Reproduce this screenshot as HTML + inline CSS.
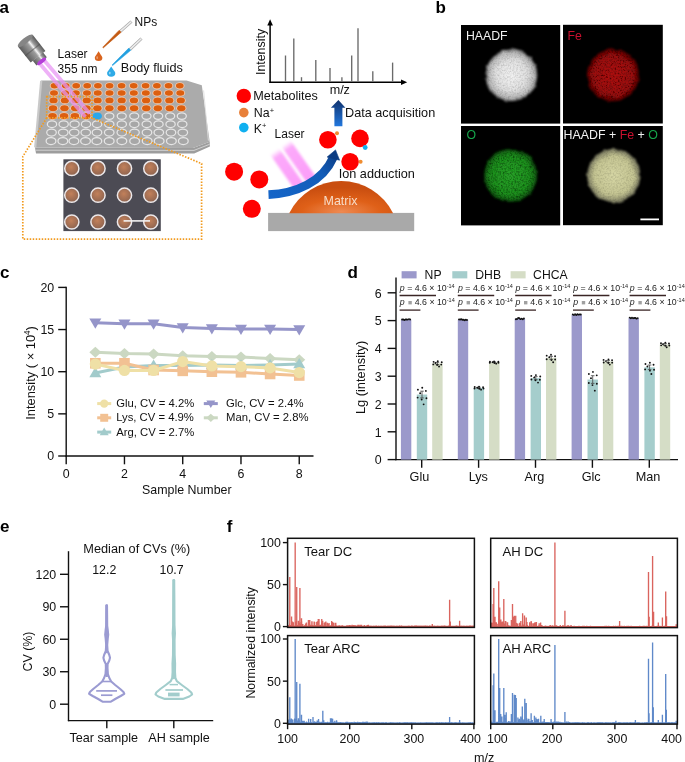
<!DOCTYPE html>
<html><head><meta charset="utf-8"><style>
html,body{margin:0;padding:0;background:#fff;}
svg{display:block;font-family:"Liberation Sans", sans-serif;will-change:transform;}
</style></head><body>
<svg width="685" height="762" viewBox="0 0 685 762">
<defs>
<linearGradient id="objG" x1="0" y1="0" x2="0" y2="1">
  <stop offset="0" stop-color="#5a5a5a"/><stop offset="0.25" stop-color="#9a9a9a"/>
  <stop offset="0.38" stop-color="#f4f4f4"/><stop offset="0.5" stop-color="#9c9c9c"/>
  <stop offset="1" stop-color="#5c5c5c"/>
</linearGradient>
<radialGradient id="matG" cx="0.5" cy="0.95" r="0.75">
  <stop offset="0" stop-color="#ee8a52"/><stop offset="0.5" stop-color="#df6018"/><stop offset="1" stop-color="#c94e10"/>
</radialGradient>
<linearGradient id="upArr" x1="0" y1="0" x2="0" y2="1">
  <stop offset="0" stop-color="#10336e"/><stop offset="1" stop-color="#2277dd"/>
</linearGradient>
<linearGradient id="curvArr" x1="0" y1="1" x2="1" y2="0">
  <stop offset="0" stop-color="#1b6bd0"/><stop offset="0.6" stop-color="#1757b0"/><stop offset="1" stop-color="#0c3a80"/>
</linearGradient>
<linearGradient id="pinkG" x1="0" y1="0" x2="1" y2="0">
  <stop offset="0" stop-color="#fca4fb" stop-opacity="0"/><stop offset="0.14" stop-color="#fca0fa" stop-opacity="0.9"/>
  <stop offset="1" stop-color="#fb9cf8" stop-opacity="1"/>
</linearGradient>
<radialGradient id="spotG" cx="0.45" cy="0.4" r="0.6">
  <stop offset="0" stop-color="#c2805a"/><stop offset="1" stop-color="#8e6450"/>
</radialGradient>
<radialGradient id="haadfG" cx="0.5" cy="0.5" r="0.5">
  <stop offset="0" stop-color="#f2f2f2"/><stop offset="0.6" stop-color="#e0e0e0"/><stop offset="0.88" stop-color="#b8b8b8"/><stop offset="1" stop-color="#6a6a6a"/>
</radialGradient>
<radialGradient id="feG" cx="0.5" cy="0.5" r="0.5">
  <stop offset="0" stop-color="#b00c0c"/><stop offset="0.75" stop-color="#9a0808"/><stop offset="1" stop-color="#5a0404"/>
</radialGradient>
<radialGradient id="oG" cx="0.5" cy="0.5" r="0.5">
  <stop offset="0" stop-color="#27a227"/><stop offset="0.75" stop-color="#1d8e1d"/><stop offset="1" stop-color="#0e520e"/>
</radialGradient>
<radialGradient id="mixG" cx="0.5" cy="0.5" r="0.5">
  <stop offset="0" stop-color="#d6d6a4"/><stop offset="0.75" stop-color="#c4c492"/><stop offset="1" stop-color="#74745c"/>
</radialGradient>
<filter id="noise" x="0" y="0" width="100%" height="100%">
  <feTurbulence type="fractalNoise" baseFrequency="0.9" numOctaves="2" seed="7" result="t"/>
  <feColorMatrix type="matrix" values="0 0 0 0 0  0 0 0 0 0  0 0 0 0 0  0 0 0 -1.4 1.0" />
</filter>
<filter id="blur1"><feGaussianBlur stdDeviation="0.8"/></filter>
<filter id="blur2"><feGaussianBlur stdDeviation="1.2"/></filter>
</defs>
<rect x="0" y="0" width="685" height="762" fill="#fff"/>
<text x="-0.60" y="12.70" font-size="17" text-anchor="start" fill="#000" font-weight="bold"  >a</text>
<text x="435.60" y="12.80" font-size="17" text-anchor="start" fill="#000" font-weight="bold"  >b</text>
<text x="0.10" y="277.80" font-size="17" text-anchor="start" fill="#000" font-weight="bold"  >c</text>
<text x="347.40" y="277.80" font-size="17" text-anchor="start" fill="#000" font-weight="bold"  >d</text>
<text x="-0.10" y="531.90" font-size="17" text-anchor="start" fill="#000" font-weight="bold"  >e</text>
<text x="226.80" y="531.80" font-size="17" text-anchor="start" fill="#000" font-weight="bold"  >f</text>
<path d="M35,147.5 L193,148 L209.7,141.8 L209.9,146.6 L194.2,153.4 L36,153.4 Z" fill="#9d9d9d"/>
<path d="M36,150.2 L194,150.4 L209.8,144.2" fill="none" stroke="#d6d6d6" stroke-width="0.9"/>
<path d="M41.2,80.6 L186.5,80.5 L201.8,85.3 L209.7,141.8 L193,148 L35,147.5 Z" fill="#ababab"/>
<path d="M41.2,80.9 L35.2,147.3" stroke="#c9c9c9" stroke-width="2.2" fill="none"/>
<path d="M203.6,90.4 L208.4,140.6" stroke="#dedede" stroke-width="0.9" fill="none"/>
<ellipse cx="54.50" cy="85.70" rx="4.75" ry="3.50" fill="#f4cbb0"/>
<ellipse cx="54.50" cy="85.70" rx="3.85" ry="2.70" fill="#dc5f0f"/>
<ellipse cx="65.70" cy="85.70" rx="4.75" ry="3.50" fill="#f4cbb0"/>
<ellipse cx="65.70" cy="85.70" rx="3.85" ry="2.70" fill="#dc5f0f"/>
<ellipse cx="76.20" cy="85.70" rx="4.75" ry="3.50" fill="#f4cbb0"/>
<ellipse cx="76.20" cy="85.70" rx="3.85" ry="2.70" fill="#dc5f0f"/>
<ellipse cx="87.20" cy="85.70" rx="4.75" ry="3.50" fill="#f4cbb0"/>
<ellipse cx="87.20" cy="85.70" rx="3.85" ry="2.70" fill="#dc5f0f"/>
<ellipse cx="97.90" cy="85.70" rx="4.75" ry="3.50" fill="#f4cbb0"/>
<ellipse cx="97.90" cy="85.70" rx="3.85" ry="2.70" fill="#dc5f0f"/>
<ellipse cx="109.60" cy="85.70" rx="4.75" ry="3.50" fill="#f4cbb0"/>
<ellipse cx="109.60" cy="85.70" rx="3.85" ry="2.70" fill="#dc5f0f"/>
<ellipse cx="121.60" cy="85.70" rx="4.75" ry="3.50" fill="#f4cbb0"/>
<ellipse cx="121.60" cy="85.70" rx="3.85" ry="2.70" fill="#dc5f0f"/>
<ellipse cx="133.70" cy="85.70" rx="4.75" ry="3.50" fill="#f4cbb0"/>
<ellipse cx="133.70" cy="85.70" rx="3.85" ry="2.70" fill="#dc5f0f"/>
<ellipse cx="145.60" cy="85.70" rx="4.75" ry="3.50" fill="#f4cbb0"/>
<ellipse cx="145.60" cy="85.70" rx="3.85" ry="2.70" fill="#dc5f0f"/>
<ellipse cx="156.90" cy="85.70" rx="4.75" ry="3.50" fill="#f4cbb0"/>
<ellipse cx="156.90" cy="85.70" rx="3.85" ry="2.70" fill="#dc5f0f"/>
<ellipse cx="168.50" cy="85.70" rx="4.75" ry="3.50" fill="#f4cbb0"/>
<ellipse cx="168.50" cy="85.70" rx="3.85" ry="2.70" fill="#dc5f0f"/>
<ellipse cx="179.80" cy="85.70" rx="4.75" ry="3.50" fill="#f4cbb0"/>
<ellipse cx="179.80" cy="85.70" rx="3.85" ry="2.70" fill="#dc5f0f"/>
<ellipse cx="54.00" cy="92.98" rx="4.87" ry="3.59" fill="#f4cbb0"/>
<ellipse cx="54.00" cy="92.98" rx="3.97" ry="2.79" fill="#dc5f0f"/>
<ellipse cx="65.29" cy="92.98" rx="4.87" ry="3.59" fill="#f4cbb0"/>
<ellipse cx="65.29" cy="92.98" rx="3.97" ry="2.79" fill="#dc5f0f"/>
<ellipse cx="75.87" cy="92.98" rx="4.87" ry="3.59" fill="#f4cbb0"/>
<ellipse cx="75.87" cy="92.98" rx="3.97" ry="2.79" fill="#dc5f0f"/>
<ellipse cx="86.96" cy="92.98" rx="4.87" ry="3.59" fill="#f4cbb0"/>
<ellipse cx="86.96" cy="92.98" rx="3.97" ry="2.79" fill="#dc5f0f"/>
<ellipse cx="97.75" cy="92.98" rx="4.87" ry="3.59" fill="#f4cbb0"/>
<ellipse cx="97.75" cy="92.98" rx="3.97" ry="2.79" fill="#dc5f0f"/>
<ellipse cx="109.54" cy="92.98" rx="4.87" ry="3.59" fill="#f4cbb0"/>
<ellipse cx="109.54" cy="92.98" rx="3.97" ry="2.79" fill="#dc5f0f"/>
<ellipse cx="121.64" cy="92.98" rx="4.87" ry="3.59" fill="#f4cbb0"/>
<ellipse cx="121.64" cy="92.98" rx="3.97" ry="2.79" fill="#dc5f0f"/>
<ellipse cx="133.83" cy="92.98" rx="4.87" ry="3.59" fill="#f4cbb0"/>
<ellipse cx="133.83" cy="92.98" rx="3.97" ry="2.79" fill="#dc5f0f"/>
<ellipse cx="145.83" cy="92.98" rx="4.87" ry="3.59" fill="#f4cbb0"/>
<ellipse cx="145.83" cy="92.98" rx="3.97" ry="2.79" fill="#dc5f0f"/>
<ellipse cx="157.22" cy="92.98" rx="4.87" ry="3.59" fill="#f4cbb0"/>
<ellipse cx="157.22" cy="92.98" rx="3.97" ry="2.79" fill="#dc5f0f"/>
<ellipse cx="168.91" cy="92.98" rx="4.87" ry="3.59" fill="#f4cbb0"/>
<ellipse cx="168.91" cy="92.98" rx="3.97" ry="2.79" fill="#dc5f0f"/>
<ellipse cx="180.30" cy="92.98" rx="4.87" ry="3.59" fill="#f4cbb0"/>
<ellipse cx="180.30" cy="92.98" rx="3.97" ry="2.79" fill="#dc5f0f"/>
<ellipse cx="53.50" cy="100.48" rx="4.99" ry="3.68" fill="#f4cbb0"/>
<ellipse cx="53.50" cy="100.48" rx="4.09" ry="2.88" fill="#dc5f0f"/>
<ellipse cx="64.88" cy="100.48" rx="4.99" ry="3.68" fill="#f4cbb0"/>
<ellipse cx="64.88" cy="100.48" rx="4.09" ry="2.88" fill="#dc5f0f"/>
<ellipse cx="75.55" cy="100.48" rx="4.99" ry="3.68" fill="#f4cbb0"/>
<ellipse cx="75.55" cy="100.48" rx="4.09" ry="2.88" fill="#dc5f0f"/>
<ellipse cx="86.72" cy="100.48" rx="4.99" ry="3.68" fill="#f4cbb0"/>
<ellipse cx="86.72" cy="100.48" rx="4.09" ry="2.88" fill="#dc5f0f"/>
<ellipse cx="97.59" cy="100.48" rx="4.99" ry="3.68" fill="#f4cbb0"/>
<ellipse cx="97.59" cy="100.48" rx="4.09" ry="2.88" fill="#dc5f0f"/>
<ellipse cx="109.48" cy="100.48" rx="4.99" ry="3.68" fill="#f4cbb0"/>
<ellipse cx="109.48" cy="100.48" rx="4.09" ry="2.88" fill="#dc5f0f"/>
<ellipse cx="121.67" cy="100.48" rx="4.99" ry="3.68" fill="#f4cbb0"/>
<ellipse cx="121.67" cy="100.48" rx="4.09" ry="2.88" fill="#dc5f0f"/>
<ellipse cx="133.97" cy="100.48" rx="4.99" ry="3.68" fill="#f4cbb0"/>
<ellipse cx="133.97" cy="100.48" rx="4.09" ry="2.88" fill="#dc5f0f"/>
<ellipse cx="146.06" cy="100.48" rx="4.99" ry="3.68" fill="#f4cbb0"/>
<ellipse cx="146.06" cy="100.48" rx="4.09" ry="2.88" fill="#dc5f0f"/>
<ellipse cx="157.54" cy="100.48" rx="4.99" ry="3.68" fill="#f4cbb0"/>
<ellipse cx="157.54" cy="100.48" rx="4.09" ry="2.88" fill="#dc5f0f"/>
<ellipse cx="169.32" cy="100.48" rx="4.99" ry="3.68" fill="#f4cbb0"/>
<ellipse cx="169.32" cy="100.48" rx="4.09" ry="2.88" fill="#dc5f0f"/>
<ellipse cx="180.80" cy="100.48" rx="4.99" ry="3.68" fill="#f4cbb0"/>
<ellipse cx="180.80" cy="100.48" rx="4.09" ry="2.88" fill="#dc5f0f"/>
<ellipse cx="53.00" cy="108.19" rx="5.11" ry="3.77" fill="#f4cbb0"/>
<ellipse cx="53.00" cy="108.19" rx="4.21" ry="2.97" fill="#dc5f0f"/>
<ellipse cx="64.47" cy="108.19" rx="5.11" ry="3.77" fill="#f4cbb0"/>
<ellipse cx="64.47" cy="108.19" rx="4.21" ry="2.97" fill="#dc5f0f"/>
<ellipse cx="75.22" cy="108.19" rx="5.11" ry="3.77" fill="#f4cbb0"/>
<ellipse cx="75.22" cy="108.19" rx="4.21" ry="2.97" fill="#dc5f0f"/>
<ellipse cx="86.48" cy="108.19" rx="5.11" ry="3.77" fill="#f4cbb0"/>
<ellipse cx="86.48" cy="108.19" rx="4.21" ry="2.97" fill="#dc5f0f"/>
<ellipse cx="97.44" cy="108.19" rx="5.11" ry="3.77" fill="#f4cbb0"/>
<ellipse cx="97.44" cy="108.19" rx="4.21" ry="2.97" fill="#dc5f0f"/>
<ellipse cx="109.42" cy="108.19" rx="5.11" ry="3.77" fill="#f4cbb0"/>
<ellipse cx="109.42" cy="108.19" rx="4.21" ry="2.97" fill="#dc5f0f"/>
<ellipse cx="121.71" cy="108.19" rx="5.11" ry="3.77" fill="#f4cbb0"/>
<ellipse cx="121.71" cy="108.19" rx="4.21" ry="2.97" fill="#dc5f0f"/>
<ellipse cx="134.10" cy="108.19" rx="5.11" ry="3.77" fill="#f4cbb0"/>
<ellipse cx="134.10" cy="108.19" rx="4.21" ry="2.97" fill="#dc5f0f"/>
<ellipse cx="146.28" cy="108.19" rx="5.11" ry="3.77" fill="#f4cbb0"/>
<ellipse cx="146.28" cy="108.19" rx="4.21" ry="2.97" fill="#dc5f0f"/>
<ellipse cx="157.85" cy="108.19" rx="5.11" ry="3.77" fill="#f4cbb0"/>
<ellipse cx="157.85" cy="108.19" rx="4.21" ry="2.97" fill="#dc5f0f"/>
<ellipse cx="169.73" cy="108.19" rx="5.11" ry="3.77" fill="#f4cbb0"/>
<ellipse cx="169.73" cy="108.19" rx="4.21" ry="2.97" fill="#dc5f0f"/>
<ellipse cx="181.30" cy="108.19" rx="5.11" ry="3.77" fill="#f4cbb0"/>
<ellipse cx="181.30" cy="108.19" rx="4.21" ry="2.97" fill="#dc5f0f"/>
<ellipse cx="52.50" cy="116.10" rx="5.23" ry="3.86" fill="#f4cbb0"/>
<ellipse cx="52.50" cy="116.10" rx="4.33" ry="3.06" fill="#dc5f0f"/>
<ellipse cx="64.06" cy="116.10" rx="5.23" ry="3.86" fill="#f4cbb0"/>
<ellipse cx="64.06" cy="116.10" rx="4.33" ry="3.06" fill="#dc5f0f"/>
<ellipse cx="74.89" cy="116.10" rx="5.23" ry="3.86" fill="#f4cbb0"/>
<ellipse cx="74.89" cy="116.10" rx="4.33" ry="3.06" fill="#dc5f0f"/>
<ellipse cx="86.24" cy="116.10" rx="5.23" ry="3.86" fill="#f4cbb0"/>
<ellipse cx="86.24" cy="116.10" rx="4.33" ry="3.06" fill="#dc5f0f"/>
<ellipse cx="97.29" cy="116.10" rx="4.63" ry="3.36" fill="#29a7ec"/>
<ellipse cx="109.36" cy="116.10" rx="4.53" ry="3.26" fill="#a7a7a7" stroke="#e6e6e6" stroke-width="1.25"/>
<ellipse cx="121.74" cy="116.10" rx="4.53" ry="3.26" fill="#a7a7a7" stroke="#e6e6e6" stroke-width="1.25"/>
<ellipse cx="134.23" cy="116.10" rx="4.53" ry="3.26" fill="#a7a7a7" stroke="#e6e6e6" stroke-width="1.25"/>
<ellipse cx="146.51" cy="116.10" rx="4.53" ry="3.26" fill="#a7a7a7" stroke="#e6e6e6" stroke-width="1.25"/>
<ellipse cx="158.17" cy="116.10" rx="4.53" ry="3.26" fill="#a7a7a7" stroke="#e6e6e6" stroke-width="1.25"/>
<ellipse cx="170.14" cy="116.10" rx="4.53" ry="3.26" fill="#a7a7a7" stroke="#e6e6e6" stroke-width="1.25"/>
<ellipse cx="181.80" cy="116.10" rx="4.53" ry="3.26" fill="#a7a7a7" stroke="#e6e6e6" stroke-width="1.25"/>
<ellipse cx="52.00" cy="124.22" rx="4.65" ry="3.35" fill="#a7a7a7" stroke="#e6e6e6" stroke-width="1.25"/>
<ellipse cx="63.65" cy="124.22" rx="4.65" ry="3.35" fill="#a7a7a7" stroke="#e6e6e6" stroke-width="1.25"/>
<ellipse cx="74.57" cy="124.22" rx="4.65" ry="3.35" fill="#a7a7a7" stroke="#e6e6e6" stroke-width="1.25"/>
<ellipse cx="86.01" cy="124.22" rx="4.65" ry="3.35" fill="#a7a7a7" stroke="#e6e6e6" stroke-width="1.25"/>
<ellipse cx="97.13" cy="124.22" rx="4.65" ry="3.35" fill="#a7a7a7" stroke="#e6e6e6" stroke-width="1.25"/>
<ellipse cx="109.30" cy="124.22" rx="4.65" ry="3.35" fill="#a7a7a7" stroke="#e6e6e6" stroke-width="1.25"/>
<ellipse cx="121.78" cy="124.22" rx="4.65" ry="3.35" fill="#a7a7a7" stroke="#e6e6e6" stroke-width="1.25"/>
<ellipse cx="134.36" cy="124.22" rx="4.65" ry="3.35" fill="#a7a7a7" stroke="#e6e6e6" stroke-width="1.25"/>
<ellipse cx="146.74" cy="124.22" rx="4.65" ry="3.35" fill="#a7a7a7" stroke="#e6e6e6" stroke-width="1.25"/>
<ellipse cx="158.49" cy="124.22" rx="4.65" ry="3.35" fill="#a7a7a7" stroke="#e6e6e6" stroke-width="1.25"/>
<ellipse cx="170.55" cy="124.22" rx="4.65" ry="3.35" fill="#a7a7a7" stroke="#e6e6e6" stroke-width="1.25"/>
<ellipse cx="182.30" cy="124.22" rx="4.65" ry="3.35" fill="#a7a7a7" stroke="#e6e6e6" stroke-width="1.25"/>
<ellipse cx="51.50" cy="132.56" rx="4.77" ry="3.44" fill="#a7a7a7" stroke="#e6e6e6" stroke-width="1.25"/>
<ellipse cx="63.24" cy="132.56" rx="4.77" ry="3.44" fill="#a7a7a7" stroke="#e6e6e6" stroke-width="1.25"/>
<ellipse cx="74.24" cy="132.56" rx="4.77" ry="3.44" fill="#a7a7a7" stroke="#e6e6e6" stroke-width="1.25"/>
<ellipse cx="85.77" cy="132.56" rx="4.77" ry="3.44" fill="#a7a7a7" stroke="#e6e6e6" stroke-width="1.25"/>
<ellipse cx="96.98" cy="132.56" rx="4.77" ry="3.44" fill="#a7a7a7" stroke="#e6e6e6" stroke-width="1.25"/>
<ellipse cx="109.24" cy="132.56" rx="4.77" ry="3.44" fill="#a7a7a7" stroke="#e6e6e6" stroke-width="1.25"/>
<ellipse cx="121.82" cy="132.56" rx="4.77" ry="3.44" fill="#a7a7a7" stroke="#e6e6e6" stroke-width="1.25"/>
<ellipse cx="134.50" cy="132.56" rx="4.77" ry="3.44" fill="#a7a7a7" stroke="#e6e6e6" stroke-width="1.25"/>
<ellipse cx="146.97" cy="132.56" rx="4.77" ry="3.44" fill="#a7a7a7" stroke="#e6e6e6" stroke-width="1.25"/>
<ellipse cx="158.81" cy="132.56" rx="4.77" ry="3.44" fill="#a7a7a7" stroke="#e6e6e6" stroke-width="1.25"/>
<ellipse cx="170.96" cy="132.56" rx="4.77" ry="3.44" fill="#a7a7a7" stroke="#e6e6e6" stroke-width="1.25"/>
<ellipse cx="182.80" cy="132.56" rx="4.77" ry="3.44" fill="#a7a7a7" stroke="#e6e6e6" stroke-width="1.25"/>
<ellipse cx="51.00" cy="141.11" rx="4.89" ry="3.53" fill="#a7a7a7" stroke="#e6e6e6" stroke-width="1.25"/>
<ellipse cx="62.83" cy="141.11" rx="4.89" ry="3.53" fill="#a7a7a7" stroke="#e6e6e6" stroke-width="1.25"/>
<ellipse cx="73.91" cy="141.11" rx="4.89" ry="3.53" fill="#a7a7a7" stroke="#e6e6e6" stroke-width="1.25"/>
<ellipse cx="85.53" cy="141.11" rx="4.89" ry="3.53" fill="#a7a7a7" stroke="#e6e6e6" stroke-width="1.25"/>
<ellipse cx="96.83" cy="141.11" rx="4.89" ry="3.53" fill="#a7a7a7" stroke="#e6e6e6" stroke-width="1.25"/>
<ellipse cx="109.18" cy="141.11" rx="4.89" ry="3.53" fill="#a7a7a7" stroke="#e6e6e6" stroke-width="1.25"/>
<ellipse cx="121.85" cy="141.11" rx="4.89" ry="3.53" fill="#a7a7a7" stroke="#e6e6e6" stroke-width="1.25"/>
<ellipse cx="134.63" cy="141.11" rx="4.89" ry="3.53" fill="#a7a7a7" stroke="#e6e6e6" stroke-width="1.25"/>
<ellipse cx="147.19" cy="141.11" rx="4.89" ry="3.53" fill="#a7a7a7" stroke="#e6e6e6" stroke-width="1.25"/>
<ellipse cx="159.13" cy="141.11" rx="4.89" ry="3.53" fill="#a7a7a7" stroke="#e6e6e6" stroke-width="1.25"/>
<ellipse cx="171.37" cy="141.11" rx="4.89" ry="3.53" fill="#a7a7a7" stroke="#e6e6e6" stroke-width="1.25"/>
<ellipse cx="183.31" cy="141.11" rx="4.89" ry="3.53" fill="#a7a7a7" stroke="#e6e6e6" stroke-width="1.25"/>
<g transform="translate(42,62) rotate(49.5)" opacity="0.72"><rect x="0" y="-4.7" width="70" height="3.8" fill="#e894f4"/><rect x="0" y="0.9" width="70" height="3.8" fill="#e894f4"/></g>
<g transform="translate(25.3,40.7) rotate(51.5)"><rect x="0" y="-9.4" width="20.5" height="18.8" fill="url(#objG)"/><rect x="11.2" y="-9.4" width="1.2" height="18.8" fill="#4a4a4a" opacity="0.5"/><rect x="20.3" y="-6.6" width="6.0" height="13.2" fill="url(#objG)"/><ellipse cx="0" cy="0" rx="2.8" ry="9.4" fill="#858585"/><ellipse cx="26.3" cy="0" rx="2.0" ry="5.4" fill="#b43fd8"/></g>
<line x1="131.5" y1="21.5" x2="120.3" y2="31.4" stroke="#a8a8a8" stroke-width="3.0" stroke-linecap="butt"/>
<line x1="131.5" y1="21.5" x2="120.3" y2="31.4" stroke="#ececec" stroke-width="1.6"/>
<path d="M121.2,32.2 L119.2,30.2 L102.7,47.3 L103.3,47.9 Z" fill="#c45a12" stroke="#c45a12" stroke-width="0.5"/>
<line x1="141.5" y1="38.5" x2="130" y2="49.4" stroke="#a8a8a8" stroke-width="3.0" stroke-linecap="butt"/>
<line x1="141.5" y1="38.5" x2="130" y2="49.4" stroke="#ececec" stroke-width="1.6"/>
<path d="M130.8,50.3 L128.8,48.1 L112.0,65.0 L112.6,65.6 Z" fill="#22a0e0" stroke="#22a0e0" stroke-width="0.5"/>
<path d="M98.60,51.20 C99.80,53.40 102.40,56.50 102.40,57.80 A3.80,3.23 0 0 1 94.80,57.80 C94.80,56.50 97.40,53.40 98.60,51.20 Z" fill="#d9641e"/>
<ellipse cx="97.20" cy="57.70" rx="0.9" ry="1.4" fill="#f4b48c" opacity="0.7"/>
<path d="M111.20,66.60 C112.40,68.80 115.30,71.90 115.30,73.20 A4.10,3.48 0 0 1 107.10,73.20 C107.10,71.90 110.00,68.80 111.20,66.60 Z" fill="#2eaae6"/>
<ellipse cx="109.80" cy="73.10" rx="0.9" ry="1.4" fill="#bfe6fa" opacity="0.7"/>
<text x="57.60" y="57.80" font-size="12.0" text-anchor="start" fill="#111" font-weight="normal" transform="translate(0,57.80) scale(1,1.04) translate(0,-57.80)" >Laser</text>
<text x="57.60" y="72.70" font-size="12.0" text-anchor="start" fill="#111" font-weight="normal" transform="translate(0,72.70) scale(1,1.04) translate(0,-72.70)" >355 nm</text>
<text x="134.60" y="25.90" font-size="12.0" text-anchor="start" fill="#111" font-weight="normal" transform="translate(0,25.90) scale(1,1.04) translate(0,-25.90)" >NPs</text>
<text x="120.80" y="72.30" font-size="12.7" text-anchor="start" fill="#111" font-weight="normal" transform="translate(0,72.30) scale(1,1.04) translate(0,-72.30)" >Body fluids</text>
<rect x="46.7" y="96.7" width="45.3" height="21.2" stroke="#f29b1f" stroke-width="1.7" stroke-dasharray="1.5 1.5" fill="none"/>
<path d="M46.7,117.9 L22.8,156.6 L22.8,239.2 L201.6,239.2 L201.6,163.6 L92,117.9" stroke="#f29b1f" stroke-width="1.7" stroke-dasharray="1.5 1.5" fill="none"/>
<rect x="63.4" y="159.3" width="97.4" height="71.8" fill="#4c4b54"/>
<circle cx="71.8" cy="168.4" r="7.1" fill="url(#spotG)" stroke="#ece8ea" stroke-width="1.5"/>
<circle cx="98.0" cy="168.4" r="7.1" fill="url(#spotG)" stroke="#ece8ea" stroke-width="1.5"/>
<circle cx="124.5" cy="168.4" r="7.1" fill="url(#spotG)" stroke="#ece8ea" stroke-width="1.5"/>
<circle cx="150.8" cy="168.4" r="7.1" fill="url(#spotG)" stroke="#ece8ea" stroke-width="1.5"/>
<circle cx="71.8" cy="195.2" r="7.1" fill="url(#spotG)" stroke="#ece8ea" stroke-width="1.5"/>
<circle cx="98.0" cy="195.2" r="7.1" fill="url(#spotG)" stroke="#ece8ea" stroke-width="1.5"/>
<circle cx="124.5" cy="195.2" r="7.1" fill="url(#spotG)" stroke="#ece8ea" stroke-width="1.5"/>
<circle cx="150.8" cy="195.2" r="7.1" fill="url(#spotG)" stroke="#ece8ea" stroke-width="1.5"/>
<circle cx="71.8" cy="222.0" r="7.1" fill="url(#spotG)" stroke="#ece8ea" stroke-width="1.5"/>
<circle cx="98.0" cy="222.0" r="7.1" fill="url(#spotG)" stroke="#ece8ea" stroke-width="1.5"/>
<circle cx="124.5" cy="222.0" r="7.1" fill="url(#spotG)" stroke="#ece8ea" stroke-width="1.5"/>
<circle cx="150.8" cy="222.0" r="7.1" fill="url(#spotG)" stroke="#ece8ea" stroke-width="1.5"/>
<line x1="123.60" y1="220.90" x2="150.00" y2="220.90" stroke="#f2f2f2" stroke-width="1.6" />
<line x1="270.10" y1="24.00" x2="270.10" y2="82.90" stroke="#000" stroke-width="1.5" />
<path d="M267.3,25.5 L270.1,19.3 L272.9,25.5 Z" fill="#000"/>
<line x1="269.40" y1="82.30" x2="402.00" y2="82.30" stroke="#000" stroke-width="1.5" />
<path d="M401,79.5 L407.2,82.3 L401,85.1 Z" fill="#000"/>
<line x1="285.50" y1="55.50" x2="285.50" y2="81.60" stroke="#6a6a6a" stroke-width="1.35" />
<line x1="293.80" y1="38.50" x2="293.80" y2="81.60" stroke="#6a6a6a" stroke-width="1.35" />
<line x1="301.50" y1="77.20" x2="301.50" y2="81.60" stroke="#6a6a6a" stroke-width="1.35" />
<line x1="315.80" y1="60.00" x2="315.80" y2="81.60" stroke="#6a6a6a" stroke-width="1.35" />
<line x1="330.00" y1="68.00" x2="330.00" y2="81.60" stroke="#6a6a6a" stroke-width="1.35" />
<line x1="341.90" y1="77.20" x2="341.90" y2="81.60" stroke="#6a6a6a" stroke-width="1.35" />
<line x1="351.70" y1="55.50" x2="351.70" y2="81.60" stroke="#6a6a6a" stroke-width="1.35" />
<line x1="358.00" y1="28.20" x2="358.00" y2="81.60" stroke="#6a6a6a" stroke-width="1.35" />
<line x1="372.80" y1="71.30" x2="372.80" y2="81.60" stroke="#6a6a6a" stroke-width="1.35" />
<line x1="392.60" y1="62.60" x2="392.60" y2="81.60" stroke="#6a6a6a" stroke-width="1.35" />
<text transform="translate(264.9,52.0) rotate(-90) scale(1,1.04)" font-size="12.4" text-anchor="middle" fill="#111">Intensity</text>
<text x="339.80" y="94.00" font-size="12.6" text-anchor="middle" fill="#111" font-weight="normal" transform="translate(0,94.00) scale(1,1.04) translate(0,-94.00)" >m/z</text>
<circle cx="243.8" cy="95.9" r="7.2" fill="#ff0000"/>
<text x="253.30" y="99.80" font-size="12.65" text-anchor="start" fill="#111" font-weight="normal" transform="translate(0,99.80) scale(1,1.04) translate(0,-99.80)" >Metabolites</text>
<circle cx="243.8" cy="112.6" r="4.8" fill="#e8803a"/>
<text x="253.8" y="117.4" transform="translate(0,117.4) scale(1,1.04) translate(0,-117.4)" font-size="12.4" fill="#111">Na<tspan font-size="7.5" dy="-4.6">+</tspan></text>
<circle cx="243.8" cy="127.6" r="4.8" fill="#10b0f0"/>
<text x="253.8" y="132.8" transform="translate(0,132.8) scale(1,1.04) translate(0,-132.8)" font-size="12.4" fill="#111">K<tspan font-size="7.5" dy="-4.6">+</tspan></text>
<text x="274.60" y="138.00" font-size="12.0" text-anchor="start" fill="#111" font-weight="normal" transform="translate(0,138.00) scale(1,1.04) translate(0,-138.00)" >Laser</text>
<path d="M338.4,99.9 L345.4,107.8 L342.4,107.8 L342.4,126.2 L334.4,126.2 L334.4,107.8 L330.9,107.8 Z" fill="url(#upArr)"/>
<text x="345.00" y="117.40" font-size="12.7" text-anchor="start" fill="#111" font-weight="normal" transform="translate(0,117.40) scale(1,1.04) translate(0,-117.40)" >Data acquisition</text>
<rect x="268.1" y="212.9" width="146.1" height="18.2" fill="#a9a9a9"/>
<path d="M289.2,213.2 A58.1,58.1 0 0 1 393.1,213.2 Z" fill="url(#matG)"/>
<text x="340.50" y="204.70" font-size="12.5" text-anchor="middle" fill="#f7dcc8" font-weight="normal" transform="translate(0,204.70) scale(1,1.04) translate(0,-204.70)" >Matrix</text>
<g transform="translate(280.1,147.2) rotate(55)" filter="url(#blur1)"><rect x="0" y="1.5" width="47" height="10.9" fill="url(#pinkG)"/><rect x="0" y="-12.4" width="47" height="10.9" fill="url(#pinkG)"/></g>
<circle cx="234.1" cy="171.7" r="9" fill="#ff0000"/>
<circle cx="259.3" cy="179.4" r="9" fill="#ff0000"/>
<circle cx="251.8" cy="208.8" r="9" fill="#ff0000"/>
<circle cx="327.9" cy="139.7" r="8.8" fill="#ff0000"/>
<circle cx="360.0" cy="138.4" r="8.8" fill="#ff0000"/>
<circle cx="350.1" cy="161.7" r="8.8" fill="#ff0000"/>
<circle cx="337.0" cy="133.2" r="2.0" fill="#f08c30"/>
<circle cx="360.6" cy="161.7" r="2.0" fill="#f08c30"/>
<circle cx="365.2" cy="147.5" r="2.4" fill="#10b0f0"/>
<linearGradient id="cvG" gradientUnits="userSpaceOnUse" x1="268" y1="195" x2="336" y2="150"><stop offset="0" stop-color="#1565c8"/><stop offset="0.7" stop-color="#125cb8"/><stop offset="1" stop-color="#0b3b82"/></linearGradient>
<path d="M268.5,194.6 C296,193.4 322.5,182 333.4,157.2" fill="none" stroke="url(#cvG)" stroke-width="8.6"/>
<path d="M335.5,149.9 L339.6,160.2 L327.1,157.1 Z" fill="#0b3b82" stroke="#0b3b82" stroke-width="0.6" stroke-linejoin="round"/>
<text x="338.70" y="178.50" font-size="12.7" text-anchor="start" fill="#111" font-weight="normal" transform="translate(0,178.50) scale(1,1.04) translate(0,-178.50)" >Ion adduction</text>
<filter id="rough0" x="-20%" y="-20%" width="140%" height="140%"><feTurbulence type="fractalNoise" baseFrequency="0.13" numOctaves="2" seed="3" result="w"/><feDisplacementMap in="SourceGraphic" in2="w" scale="3.6" xChannelSelector="R" yChannelSelector="G" result="s0"/><feGaussianBlur in="s0" stdDeviation="0.9" result="s"/><feTurbulence type="fractalNoise" baseFrequency="0.6" numOctaves="2" seed="4" result="f"/><feColorMatrix in="f" type="matrix" values="0 0 0 0 0  0 0 0 0 0  0 0 0 0 0  0 0 0 -2.2 1.35" result="d"/><feComposite in="d" in2="s" operator="in" result="di"/><feComponentTransfer in="di" result="dj"><feFuncA type="linear" slope="0.3"/></feComponentTransfer><feMerge><feMergeNode in="s"/><feMergeNode in="dj"/></feMerge></filter>
<rect x="461.0" y="25.0" width="99.2" height="98.6" fill="#000"/>
<circle cx="511.4" cy="75.3" r="26.0" fill="url(#haadfG)" filter="url(#rough0)"/>
<filter id="rough1" x="-20%" y="-20%" width="140%" height="140%"><feTurbulence type="fractalNoise" baseFrequency="0.13" numOctaves="2" seed="5" result="w"/><feDisplacementMap in="SourceGraphic" in2="w" scale="3.6" xChannelSelector="R" yChannelSelector="G" result="s0"/><feGaussianBlur in="s0" stdDeviation="0.9" result="s"/><feTurbulence type="fractalNoise" baseFrequency="0.6" numOctaves="2" seed="6" result="f"/><feColorMatrix in="f" type="matrix" values="0 0 0 0 0  0 0 0 0 0  0 0 0 0 0  0 0 0 -2.2 1.35" result="d"/><feComposite in="d" in2="s" operator="in" result="di"/><feComponentTransfer in="di" result="dj"><feFuncA type="linear" slope="0.8"/></feComponentTransfer><feMerge><feMergeNode in="s"/><feMergeNode in="dj"/></feMerge></filter>
<rect x="563.0" y="24.8" width="99.8" height="98.7" fill="#000"/>
<circle cx="612.9" cy="75.3" r="26.0" fill="url(#feG)" filter="url(#rough1)"/>
<filter id="rough2" x="-20%" y="-20%" width="140%" height="140%"><feTurbulence type="fractalNoise" baseFrequency="0.13" numOctaves="2" seed="8" result="w"/><feDisplacementMap in="SourceGraphic" in2="w" scale="3.6" xChannelSelector="R" yChannelSelector="G" result="s0"/><feGaussianBlur in="s0" stdDeviation="0.9" result="s"/><feTurbulence type="fractalNoise" baseFrequency="0.6" numOctaves="2" seed="9" result="f"/><feColorMatrix in="f" type="matrix" values="0 0 0 0 0  0 0 0 0 0  0 0 0 0 0  0 0 0 -2.2 1.35" result="d"/><feComposite in="d" in2="s" operator="in" result="di"/><feComponentTransfer in="di" result="dj"><feFuncA type="linear" slope="0.75"/></feComponentTransfer><feMerge><feMergeNode in="s"/><feMergeNode in="dj"/></feMerge></filter>
<rect x="461.0" y="126.0" width="99.2" height="99.4" fill="#000"/>
<circle cx="510.7" cy="175.4" r="26.4" fill="url(#oG)" filter="url(#rough2)"/>
<filter id="rough3" x="-20%" y="-20%" width="140%" height="140%"><feTurbulence type="fractalNoise" baseFrequency="0.13" numOctaves="2" seed="12" result="w"/><feDisplacementMap in="SourceGraphic" in2="w" scale="3.6" xChannelSelector="R" yChannelSelector="G" result="s0"/><feGaussianBlur in="s0" stdDeviation="0.9" result="s"/><feTurbulence type="fractalNoise" baseFrequency="0.6" numOctaves="2" seed="13" result="f"/><feColorMatrix in="f" type="matrix" values="0 0 0 0 0  0 0 0 0 0  0 0 0 0 0  0 0 0 -2.2 1.35" result="d"/><feComposite in="d" in2="s" operator="in" result="di"/><feComponentTransfer in="di" result="dj"><feFuncA type="linear" slope="0.28"/></feComponentTransfer><feMerge><feMergeNode in="s"/><feMergeNode in="dj"/></feMerge></filter>
<rect x="563.0" y="126.0" width="99.8" height="99.2" fill="#000"/>
<circle cx="613.8" cy="175.7" r="26.6" fill="url(#mixG)" filter="url(#rough3)"/>
<text x="466.00" y="40.30" font-size="12.3" text-anchor="start" fill="#f0f0f0" font-weight="normal" transform="translate(0,40.30) scale(1,1.04) translate(0,-40.30)" >HAADF</text>
<text x="567.40" y="40.20" font-size="12.3" text-anchor="start" fill="#c8102e" font-weight="normal" transform="translate(0,40.20) scale(1,1.04) translate(0,-40.20)" >Fe</text>
<text x="466.60" y="139.20" font-size="12.3" text-anchor="start" fill="#16a34a" font-weight="normal" transform="translate(0,139.20) scale(1,1.04) translate(0,-139.20)" >O</text>
<text x="563.6" y="139.1" transform="translate(0,139.1) scale(1,1.04) translate(0,-139.1)" font-size="12.4" fill="#f0f0f0">HAADF + <tspan fill="#c8102e">Fe</tspan> + <tspan fill="#16a34a">O</tspan></text>
<line x1="640.40" y1="219.40" x2="659.00" y2="219.40" stroke="#fff" stroke-width="1.8" />
<line x1="66.20" y1="286.80" x2="66.20" y2="456.60" stroke="#111" stroke-width="1.4" />
<line x1="65.60" y1="456.00" x2="313.50" y2="456.00" stroke="#111" stroke-width="1.4" />
<line x1="58.20" y1="456.00" x2="66.20" y2="456.00" stroke="#111" stroke-width="1.4" />
<text x="54.20" y="460.40" font-size="12.4" text-anchor="end" fill="#111" font-weight="normal" transform="translate(0,460.40) scale(1,1.04) translate(0,-460.40)" >0</text>
<line x1="58.20" y1="413.85" x2="66.20" y2="413.85" stroke="#111" stroke-width="1.4" />
<text x="54.20" y="418.25" font-size="12.4" text-anchor="end" fill="#111" font-weight="normal" transform="translate(0,418.25) scale(1,1.04) translate(0,-418.25)" >5</text>
<line x1="58.20" y1="371.70" x2="66.20" y2="371.70" stroke="#111" stroke-width="1.4" />
<text x="54.20" y="376.10" font-size="12.4" text-anchor="end" fill="#111" font-weight="normal" transform="translate(0,376.10) scale(1,1.04) translate(0,-376.10)" >10</text>
<line x1="58.20" y1="329.55" x2="66.20" y2="329.55" stroke="#111" stroke-width="1.4" />
<text x="54.20" y="333.95" font-size="12.4" text-anchor="end" fill="#111" font-weight="normal" transform="translate(0,333.95) scale(1,1.04) translate(0,-333.95)" >15</text>
<line x1="58.20" y1="287.40" x2="66.20" y2="287.40" stroke="#111" stroke-width="1.4" />
<text x="54.20" y="291.80" font-size="12.4" text-anchor="end" fill="#111" font-weight="normal" transform="translate(0,291.80) scale(1,1.04) translate(0,-291.80)" >20</text>
<line x1="66.20" y1="456.00" x2="66.20" y2="464.30" stroke="#111" stroke-width="1.4" />
<text x="66.20" y="478.20" font-size="12.4" text-anchor="middle" fill="#111" font-weight="normal" transform="translate(0,478.20) scale(1,1.04) translate(0,-478.20)" >0</text>
<line x1="124.46" y1="456.00" x2="124.46" y2="464.30" stroke="#111" stroke-width="1.4" />
<text x="124.46" y="478.20" font-size="12.4" text-anchor="middle" fill="#111" font-weight="normal" transform="translate(0,478.20) scale(1,1.04) translate(0,-478.20)" >2</text>
<line x1="182.72" y1="456.00" x2="182.72" y2="464.30" stroke="#111" stroke-width="1.4" />
<text x="182.72" y="478.20" font-size="12.4" text-anchor="middle" fill="#111" font-weight="normal" transform="translate(0,478.20) scale(1,1.04) translate(0,-478.20)" >4</text>
<line x1="240.98" y1="456.00" x2="240.98" y2="464.30" stroke="#111" stroke-width="1.4" />
<text x="240.98" y="478.20" font-size="12.4" text-anchor="middle" fill="#111" font-weight="normal" transform="translate(0,478.20) scale(1,1.04) translate(0,-478.20)" >6</text>
<line x1="299.24" y1="456.00" x2="299.24" y2="464.30" stroke="#111" stroke-width="1.4" />
<text x="299.24" y="478.20" font-size="12.4" text-anchor="middle" fill="#111" font-weight="normal" transform="translate(0,478.20) scale(1,1.04) translate(0,-478.20)" >8</text>
<text x="186.80" y="494.00" font-size="12.4" text-anchor="middle" fill="#111" font-weight="normal" transform="translate(0,494.00) scale(1,1.04) translate(0,-494.00)" >Sample Number</text>
<text transform="translate(34.8,373.0) rotate(-90) scale(1,1.04)" font-size="12.9" text-anchor="middle" fill="#111">Intensity ( × 10<tspan font-size="8" dy="-4.5">4</tspan><tspan dy="4.5">)</tspan></text>
<polyline points="95.33,322.64 124.46,323.65 153.59,323.65 182.72,327.44 211.85,328.45 240.98,329.04 270.11,329.04 299.24,329.55" fill="none" stroke="#9595c9" stroke-width="3" stroke-linejoin="round"/>
<path d="M89.33,318.44 L101.33,318.44 L95.33,328.64 Z" fill="#9595c9"/>
<path d="M118.46,319.45 L130.46,319.45 L124.46,329.65 Z" fill="#9595c9"/>
<path d="M147.59,319.45 L159.59,319.45 L153.59,329.65 Z" fill="#9595c9"/>
<path d="M176.72,323.24 L188.72,323.24 L182.72,333.44 Z" fill="#9595c9"/>
<path d="M205.85,324.25 L217.85,324.25 L211.85,334.45 Z" fill="#9595c9"/>
<path d="M234.98,324.84 L246.98,324.84 L240.98,335.04 Z" fill="#9595c9"/>
<path d="M264.11,324.84 L276.11,324.84 L270.11,335.04 Z" fill="#9595c9"/>
<path d="M293.24,325.35 L305.24,325.35 L299.24,335.55 Z" fill="#9595c9"/>
<polyline points="95.33,352.31 124.46,353.58 153.59,354.00 182.72,355.68 211.85,356.53 240.98,357.12 270.11,358.38 299.24,359.73" fill="none" stroke="#cbd8c2" stroke-width="3" stroke-linejoin="round"/>
<path d="M89.33,352.31 L95.33,346.81 L101.33,352.31 L95.33,357.81 Z" fill="#cbd8c2"/>
<path d="M118.46,353.58 L124.46,348.08 L130.46,353.58 L124.46,359.08 Z" fill="#cbd8c2"/>
<path d="M147.59,354.00 L153.59,348.50 L159.59,354.00 L153.59,359.50 Z" fill="#cbd8c2"/>
<path d="M176.72,355.68 L182.72,350.18 L188.72,355.68 L182.72,361.18 Z" fill="#cbd8c2"/>
<path d="M205.85,356.53 L211.85,351.03 L217.85,356.53 L211.85,362.03 Z" fill="#cbd8c2"/>
<path d="M234.98,357.12 L240.98,351.62 L246.98,357.12 L240.98,362.62 Z" fill="#cbd8c2"/>
<path d="M264.11,358.38 L270.11,352.88 L276.11,358.38 L270.11,363.88 Z" fill="#cbd8c2"/>
<path d="M293.24,359.73 L299.24,354.23 L305.24,359.73 L299.24,365.23 Z" fill="#cbd8c2"/>
<polyline points="95.33,372.96 124.46,367.06 153.59,365.38 182.72,365.38 211.85,364.96 240.98,365.38 270.11,364.96 299.24,364.11" fill="none" stroke="#a2cbcb" stroke-width="3" stroke-linejoin="round"/>
<path d="M89.33,377.16 L101.33,377.16 L95.33,366.96 Z" fill="#a2cbcb"/>
<path d="M118.46,371.26 L130.46,371.26 L124.46,361.06 Z" fill="#a2cbcb"/>
<path d="M147.59,369.58 L159.59,369.58 L153.59,359.38 Z" fill="#a2cbcb"/>
<path d="M176.72,369.58 L188.72,369.58 L182.72,359.38 Z" fill="#a2cbcb"/>
<path d="M205.85,369.16 L217.85,369.16 L211.85,358.96 Z" fill="#a2cbcb"/>
<path d="M234.98,369.58 L246.98,369.58 L240.98,359.38 Z" fill="#a2cbcb"/>
<path d="M264.11,369.16 L276.11,369.16 L270.11,358.96 Z" fill="#a2cbcb"/>
<path d="M293.24,368.31 L305.24,368.31 L299.24,358.11 Z" fill="#a2cbcb"/>
<polyline points="95.33,363.27 124.46,363.27 153.59,370.01 182.72,370.86 211.85,371.70 240.98,372.29 270.11,373.98 299.24,375.49" fill="none" stroke="#f2c193" stroke-width="3" stroke-linejoin="round"/>
<rect x="90.03" y="357.97" width="10.60" height="10.60" fill="#f2c193"/>
<rect x="119.16" y="357.97" width="10.60" height="10.60" fill="#f2c193"/>
<rect x="148.29" y="364.71" width="10.60" height="10.60" fill="#f2c193"/>
<rect x="177.42" y="365.56" width="10.60" height="10.60" fill="#f2c193"/>
<rect x="206.55" y="366.40" width="10.60" height="10.60" fill="#f2c193"/>
<rect x="235.68" y="366.99" width="10.60" height="10.60" fill="#f2c193"/>
<rect x="264.81" y="368.68" width="10.60" height="10.60" fill="#f2c193"/>
<rect x="293.94" y="370.19" width="10.60" height="10.60" fill="#f2c193"/>
<polyline points="95.33,364.11 124.46,370.44 153.59,370.44 182.72,361.58 211.85,365.97 240.98,366.64 270.11,367.91 299.24,372.54" fill="none" stroke="#efe0a6" stroke-width="3" stroke-linejoin="round"/>
<circle cx="95.33" cy="364.11" r="5.60" fill="#efe0a6"/>
<circle cx="124.46" cy="370.44" r="5.60" fill="#efe0a6"/>
<circle cx="153.59" cy="370.44" r="5.60" fill="#efe0a6"/>
<circle cx="182.72" cy="361.58" r="5.60" fill="#efe0a6"/>
<circle cx="211.85" cy="365.97" r="5.60" fill="#efe0a6"/>
<circle cx="240.98" cy="366.64" r="5.60" fill="#efe0a6"/>
<circle cx="270.11" cy="367.91" r="5.60" fill="#efe0a6"/>
<circle cx="299.24" cy="372.54" r="5.60" fill="#efe0a6"/>
<line x1="97.20" y1="403.60" x2="111.20" y2="403.60" stroke="#efe0a6" stroke-width="3" />
<circle cx="104.20" cy="403.60" r="4.20" fill="#efe0a6"/>
<text x="116.20" y="407.20" font-size="11.3" text-anchor="start" fill="#111" font-weight="normal" transform="translate(0,407.20) scale(1,1.04) translate(0,-407.20)" >Glu, CV = 4.2%</text>
<line x1="97.20" y1="417.80" x2="111.20" y2="417.80" stroke="#f2c193" stroke-width="3" />
<rect x="100.23" y="413.82" width="7.95" height="7.95" fill="#f2c193"/>
<text x="116.20" y="421.40" font-size="11.3" text-anchor="start" fill="#111" font-weight="normal" transform="translate(0,421.40) scale(1,1.04) translate(0,-421.40)" >Lys, CV = 4.9%</text>
<line x1="97.20" y1="432.10" x2="111.20" y2="432.10" stroke="#a2cbcb" stroke-width="3" />
<path d="M99.70,435.25 L108.70,435.25 L104.20,427.60 Z" fill="#a2cbcb"/>
<text x="116.20" y="435.70" font-size="11.3" text-anchor="start" fill="#111" font-weight="normal" transform="translate(0,435.70) scale(1,1.04) translate(0,-435.70)" >Arg, CV = 2.7%</text>
<line x1="203.80" y1="403.60" x2="217.80" y2="403.60" stroke="#9595c9" stroke-width="3" />
<path d="M206.30,400.45 L215.30,400.45 L210.80,408.10 Z" fill="#9595c9"/>
<text x="226.00" y="407.20" font-size="11.3" text-anchor="start" fill="#111" font-weight="normal" transform="translate(0,407.20) scale(1,1.04) translate(0,-407.20)" >Glc, CV = 2.4%</text>
<line x1="203.80" y1="417.80" x2="217.80" y2="417.80" stroke="#cbd8c2" stroke-width="3" />
<path d="M206.30,417.80 L210.80,413.68 L215.30,417.80 L210.80,421.93 Z" fill="#cbd8c2"/>
<text x="226.00" y="421.40" font-size="11.3" text-anchor="start" fill="#111" font-weight="normal" transform="translate(0,421.40) scale(1,1.04) translate(0,-421.40)" >Man, CV = 2.8%</text>
<line x1="396.00" y1="277.40" x2="396.00" y2="460.20" stroke="#111" stroke-width="1.4" />
<line x1="395.40" y1="459.60" x2="678.00" y2="459.60" stroke="#111" stroke-width="1.4" />
<line x1="387.60" y1="459.60" x2="396.00" y2="459.60" stroke="#111" stroke-width="1.4" />
<text x="381.70" y="464.40" font-size="12.4" text-anchor="end" fill="#111" font-weight="normal" transform="translate(0,464.40) scale(1,1.04) translate(0,-464.40)" >0</text>
<line x1="387.60" y1="431.80" x2="396.00" y2="431.80" stroke="#111" stroke-width="1.4" />
<text x="381.70" y="436.60" font-size="12.4" text-anchor="end" fill="#111" font-weight="normal" transform="translate(0,436.60) scale(1,1.04) translate(0,-436.60)" >1</text>
<line x1="387.60" y1="404.00" x2="396.00" y2="404.00" stroke="#111" stroke-width="1.4" />
<text x="381.70" y="408.80" font-size="12.4" text-anchor="end" fill="#111" font-weight="normal" transform="translate(0,408.80) scale(1,1.04) translate(0,-408.80)" >2</text>
<line x1="387.60" y1="376.20" x2="396.00" y2="376.20" stroke="#111" stroke-width="1.4" />
<text x="381.70" y="381.00" font-size="12.4" text-anchor="end" fill="#111" font-weight="normal" transform="translate(0,381.00) scale(1,1.04) translate(0,-381.00)" >3</text>
<line x1="387.60" y1="348.40" x2="396.00" y2="348.40" stroke="#111" stroke-width="1.4" />
<text x="381.70" y="353.20" font-size="12.4" text-anchor="end" fill="#111" font-weight="normal" transform="translate(0,353.20) scale(1,1.04) translate(0,-353.20)" >4</text>
<line x1="387.60" y1="320.60" x2="396.00" y2="320.60" stroke="#111" stroke-width="1.4" />
<text x="381.70" y="325.40" font-size="12.4" text-anchor="end" fill="#111" font-weight="normal" transform="translate(0,325.40) scale(1,1.04) translate(0,-325.40)" >5</text>
<line x1="387.60" y1="292.80" x2="396.00" y2="292.80" stroke="#111" stroke-width="1.4" />
<text x="381.70" y="297.60" font-size="12.4" text-anchor="end" fill="#111" font-weight="normal" transform="translate(0,297.60) scale(1,1.04) translate(0,-297.60)" >6</text>
<text transform="translate(365.0,377.4) rotate(-90) scale(1,1.04)" font-size="12.8" text-anchor="middle" fill="#111">Lg (intensity)</text>
<line x1="421.70" y1="459.60" x2="421.70" y2="467.80" stroke="#111" stroke-width="1.4" />
<text x="419.40" y="480.80" font-size="12.7" text-anchor="middle" fill="#111" font-weight="normal" transform="translate(0,480.80) scale(1,1.04) translate(0,-480.80)" >Glu</text>
<rect x="400.90" y="319.49" width="10.4" height="140.11" fill="#9b99cb"/>
<rect x="416.80" y="394.55" width="10.4" height="65.05" fill="#a5cdcc"/>
<rect x="432.20" y="363.41" width="10.4" height="96.19" fill="#d5ddc6"/>
<circle cx="402.10" cy="319.43" r="0.95" fill="#111"/>
<circle cx="403.24" cy="319.56" r="0.95" fill="#111"/>
<circle cx="404.39" cy="320.00" r="0.95" fill="#111"/>
<circle cx="405.53" cy="319.45" r="0.95" fill="#111"/>
<circle cx="406.67" cy="319.50" r="0.95" fill="#111"/>
<circle cx="407.81" cy="319.59" r="0.95" fill="#111"/>
<circle cx="408.96" cy="319.11" r="0.95" fill="#111"/>
<circle cx="410.10" cy="319.50" r="0.95" fill="#111"/>
<line x1="422.00" y1="391.18" x2="422.00" y2="397.91" stroke="#444" stroke-width="0.8" />
<line x1="420.20" y1="391.18" x2="423.80" y2="391.18" stroke="#444" stroke-width="0.8" />
<line x1="420.20" y1="397.91" x2="423.80" y2="397.91" stroke="#444" stroke-width="0.8" />
<circle cx="417.90" cy="389.66" r="0.95" fill="#111"/>
<circle cx="422.23" cy="387.82" r="0.95" fill="#111"/>
<circle cx="425.88" cy="390.88" r="0.95" fill="#111"/>
<circle cx="417.64" cy="397.61" r="0.95" fill="#111"/>
<circle cx="421.67" cy="399.44" r="0.95" fill="#111"/>
<circle cx="426.45" cy="398.22" r="0.95" fill="#111"/>
<circle cx="420.15" cy="393.32" r="0.95" fill="#111"/>
<circle cx="423.63" cy="404.33" r="0.95" fill="#111"/>
<line x1="437.40" y1="362.34" x2="437.40" y2="364.48" stroke="#444" stroke-width="0.8" />
<line x1="435.60" y1="362.34" x2="439.20" y2="362.34" stroke="#444" stroke-width="0.8" />
<line x1="435.60" y1="364.48" x2="439.20" y2="364.48" stroke="#444" stroke-width="0.8" />
<circle cx="433.59" cy="361.86" r="0.95" fill="#111"/>
<circle cx="437.77" cy="361.27" r="0.95" fill="#111"/>
<circle cx="441.72" cy="362.24" r="0.95" fill="#111"/>
<circle cx="433.29" cy="364.38" r="0.95" fill="#111"/>
<circle cx="437.13" cy="364.97" r="0.95" fill="#111"/>
<circle cx="441.21" cy="364.58" r="0.95" fill="#111"/>
<circle cx="435.42" cy="363.02" r="0.95" fill="#111"/>
<circle cx="439.05" cy="366.53" r="0.95" fill="#111"/>
<text x="399.80" y="291.3" transform="translate(0,291.3) scale(1,1.04) translate(0,-291.3)" font-size="8.8" fill="#222"><tspan font-style="italic">p</tspan> = 4.6 × 10<tspan font-size="5.5" dy="-3.2">-14</tspan></text>
<text x="399.80" y="305.4" transform="translate(0,305.4) scale(1,1.04) translate(0,-305.4)" font-size="8.8" fill="#222"><tspan font-style="italic">p</tspan> <tspan fill="#fff">=</tspan> 4.6 × 10<tspan font-size="5.5" dy="-3.2">-14</tspan></text>
<rect x="408.40" y="301.0" width="3.4" height="3.4" fill="#a0a0a0"/>
<line x1="399.60" y1="295.50" x2="436.00" y2="295.50" stroke="#3a2525" stroke-width="1.3" />
<line x1="399.60" y1="310.10" x2="420.40" y2="310.10" stroke="#3a2525" stroke-width="1.3" />
<line x1="478.60" y1="459.60" x2="478.60" y2="467.80" stroke="#111" stroke-width="1.4" />
<text x="478.30" y="480.80" font-size="12.7" text-anchor="middle" fill="#111" font-weight="normal" transform="translate(0,480.80) scale(1,1.04) translate(0,-480.80)" >Lys</text>
<rect x="457.80" y="319.77" width="10.4" height="139.83" fill="#9b99cb"/>
<rect x="473.70" y="387.88" width="10.4" height="71.72" fill="#a5cdcc"/>
<rect x="489.10" y="362.30" width="10.4" height="97.30" fill="#d5ddc6"/>
<circle cx="459.00" cy="319.39" r="0.95" fill="#111"/>
<circle cx="460.14" cy="319.46" r="0.95" fill="#111"/>
<circle cx="461.29" cy="319.20" r="0.95" fill="#111"/>
<circle cx="462.43" cy="319.72" r="0.95" fill="#111"/>
<circle cx="463.57" cy="319.69" r="0.95" fill="#111"/>
<circle cx="464.71" cy="320.18" r="0.95" fill="#111"/>
<circle cx="465.86" cy="319.79" r="0.95" fill="#111"/>
<circle cx="467.00" cy="319.93" r="0.95" fill="#111"/>
<line x1="478.90" y1="387.26" x2="478.90" y2="388.49" stroke="#444" stroke-width="0.8" />
<line x1="477.10" y1="387.26" x2="480.70" y2="387.26" stroke="#444" stroke-width="0.8" />
<line x1="477.10" y1="388.49" x2="480.70" y2="388.49" stroke="#444" stroke-width="0.8" />
<circle cx="474.70" cy="386.99" r="0.95" fill="#111"/>
<circle cx="479.03" cy="386.65" r="0.95" fill="#111"/>
<circle cx="483.07" cy="387.21" r="0.95" fill="#111"/>
<circle cx="474.52" cy="388.43" r="0.95" fill="#111"/>
<circle cx="479.30" cy="388.77" r="0.95" fill="#111"/>
<circle cx="483.50" cy="388.54" r="0.95" fill="#111"/>
<circle cx="477.17" cy="387.65" r="0.95" fill="#111"/>
<circle cx="481.07" cy="389.66" r="0.95" fill="#111"/>
<line x1="494.30" y1="361.84" x2="494.30" y2="362.76" stroke="#444" stroke-width="0.8" />
<line x1="492.50" y1="361.84" x2="496.10" y2="361.84" stroke="#444" stroke-width="0.8" />
<line x1="492.50" y1="362.76" x2="496.10" y2="362.76" stroke="#444" stroke-width="0.8" />
<circle cx="489.95" cy="361.63" r="0.95" fill="#111"/>
<circle cx="494.08" cy="361.38" r="0.95" fill="#111"/>
<circle cx="498.33" cy="361.80" r="0.95" fill="#111"/>
<circle cx="489.76" cy="362.72" r="0.95" fill="#111"/>
<circle cx="494.51" cy="362.97" r="0.95" fill="#111"/>
<circle cx="498.42" cy="362.80" r="0.95" fill="#111"/>
<circle cx="492.58" cy="362.13" r="0.95" fill="#111"/>
<circle cx="496.21" cy="363.63" r="0.95" fill="#111"/>
<text x="458.00" y="291.3" transform="translate(0,291.3) scale(1,1.04) translate(0,-291.3)" font-size="8.8" fill="#222"><tspan font-style="italic">p</tspan> = 4.6 × 10<tspan font-size="5.5" dy="-3.2">-14</tspan></text>
<text x="458.00" y="305.4" transform="translate(0,305.4) scale(1,1.04) translate(0,-305.4)" font-size="8.8" fill="#222"><tspan font-style="italic">p</tspan> <tspan fill="#fff">=</tspan> 4.6 × 10<tspan font-size="5.5" dy="-3.2">-14</tspan></text>
<rect x="466.60" y="301.0" width="3.4" height="3.4" fill="#a0a0a0"/>
<line x1="457.80" y1="295.50" x2="494.20" y2="295.50" stroke="#3a2525" stroke-width="1.3" />
<line x1="457.80" y1="310.10" x2="478.60" y2="310.10" stroke="#3a2525" stroke-width="1.3" />
<line x1="535.50" y1="459.60" x2="535.50" y2="467.80" stroke="#111" stroke-width="1.4" />
<text x="534.50" y="480.80" font-size="12.7" text-anchor="middle" fill="#111" font-weight="normal" transform="translate(0,480.80) scale(1,1.04) translate(0,-480.80)" >Arg</text>
<rect x="514.70" y="318.65" width="10.4" height="140.95" fill="#9b99cb"/>
<rect x="530.60" y="378.15" width="10.4" height="81.45" fill="#a5cdcc"/>
<rect x="546.00" y="357.85" width="10.4" height="101.75" fill="#d5ddc6"/>
<circle cx="515.90" cy="319.20" r="0.95" fill="#111"/>
<circle cx="517.04" cy="319.07" r="0.95" fill="#111"/>
<circle cx="518.19" cy="318.05" r="0.95" fill="#111"/>
<circle cx="519.33" cy="318.31" r="0.95" fill="#111"/>
<circle cx="520.47" cy="319.15" r="0.95" fill="#111"/>
<circle cx="521.61" cy="318.62" r="0.95" fill="#111"/>
<circle cx="522.76" cy="319.23" r="0.95" fill="#111"/>
<circle cx="523.90" cy="318.53" r="0.95" fill="#111"/>
<line x1="535.80" y1="376.62" x2="535.80" y2="379.68" stroke="#444" stroke-width="0.8" />
<line x1="534.00" y1="376.62" x2="537.60" y2="376.62" stroke="#444" stroke-width="0.8" />
<line x1="534.00" y1="379.68" x2="537.60" y2="379.68" stroke="#444" stroke-width="0.8" />
<circle cx="531.26" cy="375.92" r="0.95" fill="#111"/>
<circle cx="535.90" cy="375.09" r="0.95" fill="#111"/>
<circle cx="540.22" cy="376.48" r="0.95" fill="#111"/>
<circle cx="531.42" cy="379.54" r="0.95" fill="#111"/>
<circle cx="535.47" cy="380.37" r="0.95" fill="#111"/>
<circle cx="539.87" cy="379.81" r="0.95" fill="#111"/>
<circle cx="534.17" cy="377.59" r="0.95" fill="#111"/>
<circle cx="538.01" cy="382.59" r="0.95" fill="#111"/>
<line x1="551.20" y1="356.32" x2="551.20" y2="359.38" stroke="#444" stroke-width="0.8" />
<line x1="549.40" y1="356.32" x2="553.00" y2="356.32" stroke="#444" stroke-width="0.8" />
<line x1="549.40" y1="359.38" x2="553.00" y2="359.38" stroke="#444" stroke-width="0.8" />
<circle cx="546.69" cy="355.63" r="0.95" fill="#111"/>
<circle cx="551.00" cy="354.79" r="0.95" fill="#111"/>
<circle cx="555.08" cy="356.18" r="0.95" fill="#111"/>
<circle cx="546.65" cy="359.24" r="0.95" fill="#111"/>
<circle cx="551.44" cy="360.08" r="0.95" fill="#111"/>
<circle cx="555.14" cy="359.52" r="0.95" fill="#111"/>
<circle cx="549.25" cy="357.30" r="0.95" fill="#111"/>
<circle cx="553.16" cy="362.30" r="0.95" fill="#111"/>
<text x="515.40" y="291.3" transform="translate(0,291.3) scale(1,1.04) translate(0,-291.3)" font-size="8.8" fill="#222"><tspan font-style="italic">p</tspan> = 4.6 × 10<tspan font-size="5.5" dy="-3.2">-14</tspan></text>
<text x="515.40" y="305.4" transform="translate(0,305.4) scale(1,1.04) translate(0,-305.4)" font-size="8.8" fill="#222"><tspan font-style="italic">p</tspan> <tspan fill="#fff">=</tspan> 4.6 × 10<tspan font-size="5.5" dy="-3.2">-14</tspan></text>
<rect x="524.00" y="301.0" width="3.4" height="3.4" fill="#a0a0a0"/>
<line x1="515.20" y1="295.50" x2="551.60" y2="295.50" stroke="#3a2525" stroke-width="1.3" />
<line x1="515.20" y1="310.10" x2="536.00" y2="310.10" stroke="#3a2525" stroke-width="1.3" />
<line x1="592.40" y1="459.60" x2="592.40" y2="467.80" stroke="#111" stroke-width="1.4" />
<text x="591.20" y="480.80" font-size="12.7" text-anchor="middle" fill="#111" font-weight="normal" transform="translate(0,480.80) scale(1,1.04) translate(0,-480.80)" >Glc</text>
<rect x="571.60" y="314.76" width="10.4" height="144.84" fill="#9b99cb"/>
<rect x="587.50" y="379.54" width="10.4" height="80.06" fill="#a5cdcc"/>
<rect x="602.90" y="361.47" width="10.4" height="98.13" fill="#d5ddc6"/>
<circle cx="572.80" cy="314.39" r="0.95" fill="#111"/>
<circle cx="573.94" cy="315.04" r="0.95" fill="#111"/>
<circle cx="575.09" cy="314.32" r="0.95" fill="#111"/>
<circle cx="576.23" cy="314.93" r="0.95" fill="#111"/>
<circle cx="577.37" cy="314.30" r="0.95" fill="#111"/>
<circle cx="578.51" cy="314.67" r="0.95" fill="#111"/>
<circle cx="579.66" cy="314.42" r="0.95" fill="#111"/>
<circle cx="580.80" cy="314.49" r="0.95" fill="#111"/>
<line x1="592.70" y1="375.71" x2="592.70" y2="383.36" stroke="#444" stroke-width="0.8" />
<line x1="590.90" y1="375.71" x2="594.50" y2="375.71" stroke="#444" stroke-width="0.8" />
<line x1="590.90" y1="383.36" x2="594.50" y2="383.36" stroke="#444" stroke-width="0.8" />
<circle cx="588.88" cy="373.98" r="0.95" fill="#111"/>
<circle cx="592.94" cy="371.89" r="0.95" fill="#111"/>
<circle cx="596.74" cy="375.37" r="0.95" fill="#111"/>
<circle cx="588.81" cy="383.01" r="0.95" fill="#111"/>
<circle cx="592.47" cy="385.10" r="0.95" fill="#111"/>
<circle cx="596.82" cy="383.71" r="0.95" fill="#111"/>
<circle cx="590.98" cy="378.15" r="0.95" fill="#111"/>
<circle cx="594.81" cy="390.66" r="0.95" fill="#111"/>
<line x1="608.10" y1="360.40" x2="608.10" y2="362.54" stroke="#444" stroke-width="0.8" />
<line x1="606.30" y1="360.40" x2="609.90" y2="360.40" stroke="#444" stroke-width="0.8" />
<line x1="606.30" y1="362.54" x2="609.90" y2="362.54" stroke="#444" stroke-width="0.8" />
<circle cx="603.58" cy="359.91" r="0.95" fill="#111"/>
<circle cx="608.49" cy="359.33" r="0.95" fill="#111"/>
<circle cx="612.07" cy="360.30" r="0.95" fill="#111"/>
<circle cx="603.71" cy="362.44" r="0.95" fill="#111"/>
<circle cx="608.32" cy="363.02" r="0.95" fill="#111"/>
<circle cx="612.16" cy="362.63" r="0.95" fill="#111"/>
<circle cx="605.94" cy="361.08" r="0.95" fill="#111"/>
<circle cx="609.76" cy="364.58" r="0.95" fill="#111"/>
<text x="573.20" y="291.3" transform="translate(0,291.3) scale(1,1.04) translate(0,-291.3)" font-size="8.8" fill="#222"><tspan font-style="italic">p</tspan> = 4.6 × 10<tspan font-size="5.5" dy="-3.2">-14</tspan></text>
<text x="573.20" y="305.4" transform="translate(0,305.4) scale(1,1.04) translate(0,-305.4)" font-size="8.8" fill="#222"><tspan font-style="italic">p</tspan> <tspan fill="#fff">=</tspan> 4.6 × 10<tspan font-size="5.5" dy="-3.2">-14</tspan></text>
<rect x="581.80" y="301.0" width="3.4" height="3.4" fill="#a0a0a0"/>
<line x1="573.00" y1="295.50" x2="609.40" y2="295.50" stroke="#3a2525" stroke-width="1.3" />
<line x1="573.00" y1="310.10" x2="593.80" y2="310.10" stroke="#3a2525" stroke-width="1.3" />
<line x1="649.30" y1="459.60" x2="649.30" y2="467.80" stroke="#111" stroke-width="1.4" />
<text x="648.10" y="480.80" font-size="12.7" text-anchor="middle" fill="#111" font-weight="normal" transform="translate(0,480.80) scale(1,1.04) translate(0,-480.80)" >Man</text>
<rect x="628.50" y="318.10" width="10.4" height="141.50" fill="#9b99cb"/>
<rect x="644.40" y="367.30" width="10.4" height="92.30" fill="#a5cdcc"/>
<rect x="659.80" y="344.51" width="10.4" height="115.09" fill="#d5ddc6"/>
<circle cx="629.70" cy="317.61" r="0.95" fill="#111"/>
<circle cx="630.84" cy="318.20" r="0.95" fill="#111"/>
<circle cx="631.99" cy="317.79" r="0.95" fill="#111"/>
<circle cx="633.13" cy="318.22" r="0.95" fill="#111"/>
<circle cx="634.27" cy="317.94" r="0.95" fill="#111"/>
<circle cx="635.41" cy="318.04" r="0.95" fill="#111"/>
<circle cx="636.56" cy="318.65" r="0.95" fill="#111"/>
<circle cx="637.70" cy="318.08" r="0.95" fill="#111"/>
<line x1="649.60" y1="365.01" x2="649.60" y2="369.60" stroke="#444" stroke-width="0.8" />
<line x1="647.80" y1="365.01" x2="651.40" y2="365.01" stroke="#444" stroke-width="0.8" />
<line x1="647.80" y1="369.60" x2="651.40" y2="369.60" stroke="#444" stroke-width="0.8" />
<circle cx="645.46" cy="363.97" r="0.95" fill="#111"/>
<circle cx="649.89" cy="362.72" r="0.95" fill="#111"/>
<circle cx="653.55" cy="364.80" r="0.95" fill="#111"/>
<circle cx="645.12" cy="369.39" r="0.95" fill="#111"/>
<circle cx="649.93" cy="370.64" r="0.95" fill="#111"/>
<circle cx="654.05" cy="369.81" r="0.95" fill="#111"/>
<circle cx="647.40" cy="366.47" r="0.95" fill="#111"/>
<circle cx="651.35" cy="373.98" r="0.95" fill="#111"/>
<line x1="665.00" y1="343.59" x2="665.00" y2="345.43" stroke="#444" stroke-width="0.8" />
<line x1="663.20" y1="343.59" x2="666.80" y2="343.59" stroke="#444" stroke-width="0.8" />
<line x1="663.20" y1="345.43" x2="666.80" y2="345.43" stroke="#444" stroke-width="0.8" />
<circle cx="660.99" cy="343.17" r="0.95" fill="#111"/>
<circle cx="665.35" cy="342.67" r="0.95" fill="#111"/>
<circle cx="668.96" cy="343.51" r="0.95" fill="#111"/>
<circle cx="661.16" cy="345.34" r="0.95" fill="#111"/>
<circle cx="665.31" cy="345.84" r="0.95" fill="#111"/>
<circle cx="669.28" cy="345.51" r="0.95" fill="#111"/>
<circle cx="662.94" cy="344.17" r="0.95" fill="#111"/>
<circle cx="666.68" cy="347.18" r="0.95" fill="#111"/>
<text x="629.80" y="291.3" transform="translate(0,291.3) scale(1,1.04) translate(0,-291.3)" font-size="8.8" fill="#222"><tspan font-style="italic">p</tspan> = 4.6 × 10<tspan font-size="5.5" dy="-3.2">-14</tspan></text>
<text x="629.80" y="305.4" transform="translate(0,305.4) scale(1,1.04) translate(0,-305.4)" font-size="8.8" fill="#222"><tspan font-style="italic">p</tspan> <tspan fill="#fff">=</tspan> 4.6 × 10<tspan font-size="5.5" dy="-3.2">-14</tspan></text>
<rect x="638.40" y="301.0" width="3.4" height="3.4" fill="#a0a0a0"/>
<line x1="629.60" y1="295.50" x2="666.00" y2="295.50" stroke="#3a2525" stroke-width="1.3" />
<line x1="629.60" y1="310.10" x2="650.40" y2="310.10" stroke="#3a2525" stroke-width="1.3" />
<rect x="401.6" y="271.2" width="15" height="7.2" fill="#9b99cb"/>
<text x="424.60" y="279.30" font-size="12.2" text-anchor="start" fill="#111" font-weight="normal" transform="translate(0,279.30) scale(1,1.04) translate(0,-279.30)" >NP</text>
<rect x="452.3" y="271.2" width="15" height="7.2" fill="#a5cdcc"/>
<text x="475.30" y="279.30" font-size="12.2" text-anchor="start" fill="#111" font-weight="normal" transform="translate(0,279.30) scale(1,1.04) translate(0,-279.30)" >DHB</text>
<rect x="510.6" y="271.2" width="15" height="7.2" fill="#d5ddc6"/>
<text x="533.10" y="279.30" font-size="12.2" text-anchor="start" fill="#111" font-weight="normal" transform="translate(0,279.30) scale(1,1.04) translate(0,-279.30)" >CHCA</text>
<line x1="68.50" y1="551.20" x2="68.50" y2="721.20" stroke="#111" stroke-width="1.4" />
<line x1="67.90" y1="720.60" x2="213.20" y2="720.60" stroke="#111" stroke-width="1.4" />
<line x1="60.00" y1="704.20" x2="68.50" y2="704.20" stroke="#111" stroke-width="1.4" />
<text x="56.20" y="708.60" font-size="12.4" text-anchor="end" fill="#111" font-weight="normal" transform="translate(0,708.60) scale(1,1.04) translate(0,-708.60)" >0</text>
<line x1="60.00" y1="671.73" x2="68.50" y2="671.73" stroke="#111" stroke-width="1.4" />
<text x="56.20" y="676.12" font-size="12.4" text-anchor="end" fill="#111" font-weight="normal" transform="translate(0,676.12) scale(1,1.04) translate(0,-676.12)" >30</text>
<line x1="60.00" y1="639.25" x2="68.50" y2="639.25" stroke="#111" stroke-width="1.4" />
<text x="56.20" y="643.65" font-size="12.4" text-anchor="end" fill="#111" font-weight="normal" transform="translate(0,643.65) scale(1,1.04) translate(0,-643.65)" >60</text>
<line x1="60.00" y1="606.78" x2="68.50" y2="606.78" stroke="#111" stroke-width="1.4" />
<text x="56.20" y="611.18" font-size="12.4" text-anchor="end" fill="#111" font-weight="normal" transform="translate(0,611.18) scale(1,1.04) translate(0,-611.18)" >90</text>
<line x1="60.00" y1="574.30" x2="68.50" y2="574.30" stroke="#111" stroke-width="1.4" />
<text x="56.20" y="578.70" font-size="12.4" text-anchor="end" fill="#111" font-weight="normal" transform="translate(0,578.70) scale(1,1.04) translate(0,-578.70)" >120</text>
<line x1="106.80" y1="720.60" x2="106.80" y2="728.20" stroke="#111" stroke-width="1.4" />
<line x1="173.80" y1="720.60" x2="173.80" y2="728.20" stroke="#111" stroke-width="1.4" />
<text x="103.80" y="742.00" font-size="12.6" text-anchor="middle" fill="#111" font-weight="normal" transform="translate(0,742.00) scale(1,1.04) translate(0,-742.00)" >Tear sample</text>
<text x="179.10" y="742.00" font-size="12.6" text-anchor="middle" fill="#111" font-weight="normal" transform="translate(0,742.00) scale(1,1.04) translate(0,-742.00)" >AH sample</text>
<text transform="translate(31.8,651.5) rotate(-90) scale(1,1.04)" font-size="12.4" text-anchor="middle" fill="#111">CV (%)</text>
<text x="83.30" y="553.40" font-size="12.75" text-anchor="start" fill="#111" font-weight="normal" transform="translate(0,553.40) scale(1,1.04) translate(0,-553.40)" >Median of CVs (%)</text>
<text x="104.30" y="573.90" font-size="12.4" text-anchor="middle" fill="#111" font-weight="normal" transform="translate(0,573.90) scale(1,1.04) translate(0,-573.90)" >12.2</text>
<text x="171.60" y="573.90" font-size="12.4" text-anchor="middle" fill="#111" font-weight="normal" transform="translate(0,573.90) scale(1,1.04) translate(0,-573.90)" >10.7</text>
<path d="M106.40,605.50 L106.30,615.00 L106.20,626.00 L105.60,630.50 L105.20,634.60 L105.70,639.00 L106.20,645.00 L105.80,651.00 L104.10,655.00 L103.40,657.70 L104.10,660.50 L105.80,664.00 L105.90,668.00 L105.50,674.00 L104.10,678.00 L102.20,681.50 L98.20,685.00 L93.20,689.00 L89.90,692.00 L89.10,693.80 L92.70,696.00 L98.20,699.00 L102.50,701.70 L110.90,701.70 L115.20,699.00 L120.70,696.00 L124.30,693.80 L123.50,692.00 L120.20,689.00 L115.20,685.00 L111.20,681.50 L109.30,678.00 L107.90,674.00 L107.50,668.00 L107.60,664.00 L109.30,660.50 L110.00,657.70 L109.30,655.00 L107.60,651.00 L107.20,645.00 L107.70,639.00 L108.20,634.60 L107.80,630.50 L107.20,626.00 L107.10,615.00 L107.00,605.50 Z" fill="none" stroke="#9b9bd2" stroke-width="2.1" stroke-linejoin="round"/>
<line x1="106.70" y1="605.50" x2="106.70" y2="652.00" stroke="#9b9bd2" stroke-width="2.6" stroke-linecap="round"/>
<line x1="106.70" y1="663.00" x2="106.70" y2="677.00" stroke="#9b9bd2" stroke-width="2.4" />
<line x1="102.50" y1="681.50" x2="110.90" y2="681.50" stroke="#9b9bd2" stroke-width="1.6" />
<line x1="96.20" y1="690.90" x2="117.00" y2="690.90" stroke="#9b9bd2" stroke-width="1.7" />
<line x1="101.00" y1="695.20" x2="112.40" y2="695.20" stroke="#9b9bd2" stroke-width="1.7" />
<path d="M173.50,580.30 L173.30,600.00 L173.20,625.00 L172.70,633.40 L173.10,640.00 L173.00,655.00 L172.50,663.50 L172.60,672.00 L172.20,678.00 L170.80,681.20 L165.80,685.00 L160.30,689.00 L156.30,692.50 L155.50,694.50 L158.30,696.50 L164.80,698.90 L182.80,698.90 L189.30,696.50 L192.10,694.50 L191.30,692.50 L187.30,689.00 L181.80,685.00 L176.80,681.20 L175.40,678.00 L175.00,672.00 L175.10,663.50 L174.60,655.00 L174.50,640.00 L174.90,633.40 L174.40,625.00 L174.30,600.00 L174.10,580.30 Z" fill="none" stroke="#a2cdcc" stroke-width="2.1" stroke-linejoin="round"/>
<line x1="173.80" y1="580.30" x2="173.80" y2="678.00" stroke="#a2cdcc" stroke-width="2.6" stroke-linecap="round"/>
<line x1="165.40" y1="690.00" x2="183.00" y2="690.00" stroke="#a2cdcc" stroke-width="1.7" />
<line x1="169.60" y1="684.60" x2="178.00" y2="684.60" stroke="#a2cdcc" stroke-width="1.5" />
<rect x="168" y="692.6" width="11.6" height="3.8" fill="#a2cdcc"/>
<path d="M287.79,626.60V625.29M288.68,626.60V625.29M289.63,626.60V623.83M290.60,626.60V625.06M291.15,626.60V624.94M291.92,626.60V626.11M292.52,626.60V621.56M293.40,626.60V622.16M293.97,626.60V626.17M294.46,626.60V626.05M295.07,626.60V625.10M295.71,626.60V625.58M296.54,626.60V621.44M297.38,626.60V625.07M298.03,626.60V625.34M298.60,626.60V624.66M299.39,626.60V622.76M300.06,626.60V622.05M300.79,626.60V623.75M301.64,626.60V621.27M302.15,626.60V625.14M302.65,626.60V625.83M303.44,626.60V625.94M304.02,626.60V626.07M304.90,626.60V625.00M305.56,626.60V623.54M306.45,626.60V622.41M307.34,626.60V626.30M308.31,626.60V624.46M309.11,626.60V625.86M310.06,626.60V624.61M310.72,626.60V625.79M311.29,626.60V624.92M311.86,626.60V621.21M312.63,626.60V624.98M313.42,626.60V625.70M314.12,626.60V621.56M314.64,626.60V621.95M315.20,626.60V624.99M316.01,626.60V626.20M316.72,626.60V621.92M317.37,626.60V621.14M318.29,626.60V625.70M319.02,626.60V625.66M319.67,626.60V625.44M320.35,626.60V624.98M321.16,626.60V624.47M321.70,626.60V622.24M322.63,626.60V622.22M323.51,626.60V625.40M324.38,626.60V622.63M325.02,626.60V622.30M325.86,626.60V621.41M326.68,626.60V626.12M327.45,626.60V622.79M328.17,626.60V625.42M329.07,626.60V622.93M329.93,626.60V625.85M330.85,626.60V625.37M331.83,626.60V625.61M332.59,626.60V621.96M333.55,626.60V622.70M334.40,626.60V626.10M335.29,626.60V622.83M336.00,626.60V625.24M336.81,626.60V626.31M337.38,626.60V625.64M338.20,626.60V626.00M339.04,626.60V625.34M339.56,626.60V625.60M340.17,626.60V626.26M340.73,626.60V625.84M341.32,626.60V626.04M341.83,626.60V625.61M342.52,626.60V625.37M343.31,626.60V625.97M344.25,626.60V626.35M344.95,626.60V625.90M345.65,626.60V626.16M346.56,626.60V625.75M347.08,626.60V625.37M347.62,626.60V625.48M348.29,626.60V625.42M349.26,626.60V625.04M349.96,626.60V625.05M350.78,626.60V625.76M351.35,626.60V625.40M352.13,626.60V624.82M353.10,626.60V625.38M353.77,626.60V624.92M354.27,626.60V626.18M355.05,626.60V625.37M355.62,626.60V625.34M356.56,626.60V625.75M357.27,626.60V625.99M357.91,626.60V624.80M358.59,626.60V624.81M359.54,626.60V625.40M360.17,626.60V624.78M360.91,626.60V625.68M361.57,626.60V624.78M362.31,626.60V625.89M363.04,626.60V626.15M363.85,626.60V625.64M364.49,626.60V625.10M365.40,626.60V626.33M366.16,626.60V625.91M367.12,626.60V625.10M367.74,626.60V625.92M368.32,626.60V624.77M368.96,626.60V625.87M369.69,626.60V625.84M370.49,626.60V625.75M371.04,626.60V625.73M371.69,626.60V625.94M372.35,626.60V626.16M373.11,626.60V626.00M373.79,626.60V625.74M374.58,626.60V626.40M375.20,626.60V626.01M376.15,626.60V625.61M376.92,626.60V626.42M377.80,626.60V626.04M378.59,626.60V625.78M379.40,626.60V625.99M380.35,626.60V626.08M381.04,626.60V625.64M381.63,626.60V626.16M382.54,626.60V626.37M383.46,626.60V625.79M384.17,626.60V626.17M385.05,626.60V625.59M385.62,626.60V625.99M386.39,626.60V625.97M387.05,626.60V626.29M387.84,626.60V625.68M388.37,626.60V626.22M389.27,626.60V625.70M390.10,626.60V626.41M390.96,626.60V625.53M391.95,626.60V625.78M392.47,626.60V625.65M393.07,626.60V625.84M394.04,626.60V625.77M394.61,626.60V626.16M395.56,626.60V626.29M396.36,626.60V626.05M396.94,626.60V625.86M397.46,626.60V626.33M398.14,626.60V626.37M398.67,626.60V625.90M399.53,626.60V625.62M400.10,626.60V626.03M400.75,626.60V625.88M401.49,626.60V625.56M402.17,626.60V626.38M403.02,626.60V626.29M403.83,626.60V625.96M404.77,626.60V625.92M405.58,626.60V626.19M406.35,626.60V626.20M407.22,626.60V625.95M407.78,626.60V626.22M408.47,626.60V625.75M409.05,626.60V625.77M409.87,626.60V626.35M410.70,626.60V626.35M411.26,626.60V625.88M411.88,626.60V625.62M412.61,626.60V626.13M413.50,626.60V626.40M414.36,626.60V626.38M414.93,626.60V625.55M415.77,626.60V626.23M416.32,626.60V625.53M417.15,626.60V625.67M417.72,626.60V625.85M418.39,626.60V626.21M419.05,626.60V625.86M419.72,626.60V626.08M420.29,626.60V625.66M421.10,626.60V625.69M421.82,626.60V625.65M422.57,626.60V625.88M423.35,626.60V625.75M424.05,626.60V626.34M424.56,626.60V626.24M425.07,626.60V625.61M425.81,626.60V625.73M426.31,626.60V626.00M427.25,626.60V625.86M427.96,626.60V626.00M428.50,626.60V626.29M429.08,626.60V626.09M429.77,626.60V625.62M430.34,626.60V626.20M430.97,626.60V626.28M431.61,626.60V626.21M432.35,626.60V626.40M433.31,626.60V626.09M434.27,626.60V625.80M435.10,626.60V626.00M436.07,626.60V626.32M436.90,626.60V626.16M437.73,626.60V625.76M438.31,626.60V626.25M438.81,626.60V626.22M439.35,626.60V626.06M440.33,626.60V626.10M440.98,626.60V626.00M441.62,626.60V625.76M442.47,626.60V626.28M443.09,626.60V625.81M444.05,626.60V625.84M444.76,626.60V625.53M445.26,626.60V626.38M446.15,626.60V626.05M446.67,626.60V625.93M447.66,626.60V625.95M448.33,626.60V626.35M448.86,626.60V625.60M449.60,626.60V625.57M450.12,626.60V626.21M450.64,626.60V626.06M451.17,626.60V626.20M451.87,626.60V626.15M452.39,626.60V626.40M453.37,626.60V626.27M454.12,626.60V626.06M454.88,626.60V626.35M455.54,626.60V626.33M456.30,626.60V625.58M457.10,626.60V625.64M457.70,626.60V626.42M458.46,626.60V625.98M459.24,626.60V626.08M460.05,626.60V625.76M461.00,626.60V626.15M461.72,626.60V625.67M462.33,626.60V626.33M462.98,626.60V626.35M463.86,626.60V625.67M464.51,626.60V626.31M465.05,626.60V626.21M465.59,626.60V626.04M466.37,626.60V626.21M466.90,626.60V625.78M467.42,626.60V626.25M468.06,626.60V626.09M468.61,626.60V626.04M469.26,626.60V625.74M470.03,626.60V625.60M470.85,626.60V625.73M471.64,626.60V626.02M472.54,626.60V625.83M473.51,626.60V625.76M289.77,626.60V577.04M291.57,626.60V616.52M295.18,626.60V542.60M296.73,626.60V587.12M298.41,626.60V620.72M299.90,626.60V587.96M301.51,626.60V618.20M302.81,626.60V624.08M308.40,626.60V619.88M309.77,626.60V619.88M312.01,626.60V621.56M318.28,626.60V619.04M319.02,626.60V619.04M321.75,626.60V619.04M322.69,626.60V620.72M325.92,626.60V623.24M328.77,626.60V624.08M331.69,626.60V620.97M332.62,626.60V623.24M335.79,626.60V622.82M432.29,626.60V624.08M449.62,626.60V599.72M450.30,626.60V621.56M459.62,626.60V620.72" stroke="#da645e" stroke-width="1.35" fill="none"/>
<line x1="287.60" y1="626.60" x2="474.40" y2="626.60" stroke="#da645e" stroke-width="1.6" />
<rect x="287.60" y="538.30" width="186.80" height="89.10" fill="none" stroke="#111" stroke-width="1.5"/>
<text x="304.20" y="555.80" font-size="13.1" text-anchor="start" fill="#111" font-weight="normal" transform="translate(0,555.80) scale(1,1.04) translate(0,-555.80)" >Tear DC</text>
<line x1="282.90" y1="626.60" x2="287.60" y2="626.60" stroke="#111" stroke-width="1.4" />
<text x="280.90" y="631.00" font-size="12.4" text-anchor="end" fill="#111" font-weight="normal" transform="translate(0,631.00) scale(1,1.04) translate(0,-631.00)" >0</text>
<line x1="282.90" y1="584.60" x2="287.60" y2="584.60" stroke="#111" stroke-width="1.4" />
<text x="280.90" y="589.00" font-size="12.4" text-anchor="end" fill="#111" font-weight="normal" transform="translate(0,589.00) scale(1,1.04) translate(0,-589.00)" >50</text>
<line x1="282.90" y1="542.60" x2="287.60" y2="542.60" stroke="#111" stroke-width="1.4" />
<text x="280.90" y="547.00" font-size="12.4" text-anchor="end" fill="#111" font-weight="normal" transform="translate(0,547.00) scale(1,1.04) translate(0,-547.00)" >100</text>
<path d="M490.89,626.80V622.28M491.57,626.80V626.05M492.15,626.80V622.96M492.79,626.80V622.52M493.57,626.80V626.12M494.13,626.80V622.04M495.10,626.80V626.22M495.81,626.80V624.71M496.31,626.80V622.20M497.17,626.80V623.70M497.75,626.80V625.91M498.71,626.80V626.38M499.37,626.80V625.89M500.08,626.80V622.50M501.04,626.80V621.48M501.83,626.80V622.27M502.54,626.80V621.44M503.05,626.80V623.94M503.99,626.80V625.29M504.62,626.80V623.54M505.30,626.80V626.20M505.97,626.80V621.42M506.88,626.80V625.66M507.58,626.80V622.18M508.32,626.80V625.52M508.86,626.80V625.26M509.46,626.80V626.08M510.29,626.80V625.66M511.19,626.80V626.33M511.94,626.80V625.45M512.63,626.80V626.24M513.28,626.80V623.97M514.13,626.80V621.42M515.03,626.80V625.56M515.86,626.80V622.34M516.54,626.80V622.95M517.29,626.80V625.99M517.83,626.80V623.45M518.71,626.80V626.11M519.67,626.80V622.76M520.20,626.80V625.59M521.17,626.80V625.56M522.08,626.80V625.67M522.68,626.80V621.85M523.30,626.80V625.77M523.99,626.80V624.41M524.58,626.80V625.26M525.53,626.80V625.99M526.08,626.80V625.76M526.93,626.80V621.90M527.53,626.80V625.03M528.34,626.80V626.31M529.15,626.80V626.23M529.68,626.80V622.18M530.61,626.80V625.95M531.32,626.80V621.81M531.97,626.80V623.32M532.94,626.80V626.23M533.50,626.80V623.33M534.09,626.80V623.38M534.90,626.80V625.50M535.43,626.80V622.16M536.40,626.80V622.08M537.22,626.80V626.22M538.06,626.80V625.87M538.61,626.80V625.59M539.15,626.80V623.27M539.70,626.80V625.49M540.60,626.80V625.26M541.46,626.80V625.07M542.43,626.80V625.55M543.40,626.80V626.38M543.95,626.80V626.44M544.55,626.80V625.95M545.28,626.80V625.46M546.14,626.80V626.41M546.84,626.80V625.68M547.52,626.80V626.36M548.32,626.80V625.95M549.15,626.80V625.75M550.13,626.80V625.04M550.66,626.80V625.33M551.51,626.80V626.07M552.07,626.80V625.78M552.74,626.80V625.37M553.70,626.80V625.94M554.34,626.80V625.75M555.18,626.80V625.29M555.96,626.80V626.07M556.63,626.80V625.19M557.38,626.80V626.47M558.09,626.80V626.17M558.91,626.80V626.43M559.55,626.80V626.39M560.28,626.80V624.97M561.05,626.80V625.93M562.01,626.80V626.40M562.68,626.80V625.25M563.18,626.80V625.32M563.86,626.80V626.52M564.48,626.80V625.81M565.16,626.80V625.72M565.69,626.80V626.20M566.67,626.80V625.84M567.40,626.80V626.41M568.03,626.80V625.02M568.87,626.80V625.74M569.40,626.80V625.92M570.28,626.80V625.85M571.07,626.80V625.10M571.89,626.80V626.04M572.40,626.80V626.61M573.28,626.80V626.25M574.21,626.80V625.87M575.17,626.80V626.28M576.16,626.80V625.93M577.10,626.80V626.49M577.98,626.80V626.24M578.96,626.80V625.71M579.57,626.80V626.24M580.20,626.80V626.20M580.84,626.80V626.01M581.40,626.80V626.47M582.12,626.80V626.56M582.81,626.80V625.80M583.74,626.80V626.45M584.25,626.80V625.86M585.22,626.80V626.08M585.79,626.80V626.41M586.74,626.80V625.76M587.25,626.80V626.46M587.96,626.80V626.38M588.83,626.80V626.29M589.72,626.80V626.49M590.47,626.80V625.73M591.32,626.80V626.55M591.87,626.80V626.04M592.55,626.80V626.29M593.29,626.80V626.09M594.26,626.80V626.41M595.04,626.80V626.39M595.81,626.80V625.95M596.37,626.80V626.19M597.22,626.80V626.62M598.10,626.80V626.24M598.85,626.80V626.07M599.74,626.80V626.58M600.48,626.80V626.60M601.17,626.80V626.31M601.68,626.80V626.36M602.40,626.80V626.03M603.36,626.80V626.29M604.12,626.80V625.97M605.08,626.80V625.75M606.07,626.80V626.35M606.65,626.80V625.77M607.18,626.80V626.22M608.04,626.80V626.14M608.73,626.80V625.78M609.38,626.80V626.12M610.29,626.80V626.50M610.96,626.80V626.17M611.74,626.80V626.44M612.46,626.80V626.58M613.00,626.80V626.31M613.57,626.80V625.74M614.20,626.80V626.38M615.08,626.80V625.95M615.71,626.80V625.86M616.52,626.80V626.27M617.33,626.80V626.40M617.95,626.80V625.82M618.67,626.80V625.80M619.25,626.80V626.50M619.78,626.80V625.95M620.55,626.80V626.62M621.07,626.80V625.87M621.81,626.80V625.82M622.33,626.80V626.09M622.88,626.80V625.96M623.68,626.80V626.06M624.29,626.80V625.75M624.84,626.80V626.57M625.68,626.80V626.55M626.21,626.80V626.21M627.03,626.80V625.81M627.88,626.80V626.57M628.70,626.80V625.85M629.26,626.80V625.93M629.88,626.80V626.35M630.38,626.80V625.93M631.13,626.80V625.80M631.86,626.80V626.49M632.46,626.80V626.39M633.43,626.80V626.44M633.97,626.80V626.30M634.51,626.80V626.24M635.31,626.80V626.03M635.90,626.80V626.50M636.64,626.80V626.00M637.36,626.80V626.10M638.31,626.80V626.50M638.94,626.80V626.17M639.70,626.80V625.80M640.47,626.80V626.02M641.18,626.80V625.91M642.09,626.80V626.36M642.64,626.80V626.39M643.32,626.80V625.81M643.94,626.80V626.05M644.76,626.80V625.75M645.31,626.80V625.92M645.98,626.80V626.54M646.79,626.80V625.85M647.57,626.80V626.59M648.55,626.80V626.28M649.37,626.80V625.96M649.99,626.80V626.25M650.65,626.80V626.54M651.18,626.80V625.97M651.88,626.80V625.83M652.41,626.80V626.35M653.00,626.80V625.76M653.89,626.80V625.80M654.64,626.80V626.54M655.34,626.80V626.42M655.85,626.80V626.11M656.49,626.80V626.53M657.24,626.80V625.77M658.21,626.80V626.20M658.76,626.80V625.92M659.31,626.80V626.13M659.85,626.80V625.72M660.61,626.80V626.23M661.25,626.80V626.12M662.23,626.80V626.24M662.83,626.80V626.15M663.78,626.80V626.28M664.59,626.80V625.78M665.25,626.80V625.88M666.01,626.80V626.50M666.53,626.80V625.76M667.26,626.80V626.22M668.21,626.80V626.10M668.96,626.80V626.37M669.83,626.80V626.39M670.56,626.80V625.93M671.35,626.80V626.51M671.95,626.80V625.99M672.81,626.80V626.54M673.80,626.80V626.51M674.38,626.80V626.55M675.10,626.80V626.06M676.02,626.80V626.48M493.12,626.80V604.07M493.81,626.80V588.07M494.98,626.80V616.70M498.71,626.80V581.33M499.70,626.80V607.43M500.82,626.80V619.56M503.80,626.80V599.01M505.48,626.80V620.91M511.38,626.80V620.06M512.50,626.80V604.07M513.37,626.80V616.70M514.30,626.80V615.85M515.73,626.80V615.85M520.82,626.80V620.91M522.62,626.80V613.33M524.48,626.80V615.43M526.22,626.80V617.54M531.13,626.80V620.91M534.73,626.80V622.59M540.63,626.80V622.59M554.91,626.80V542.60M564.91,626.80V610.80M619.62,626.80V620.91M648.50,626.80V572.07M649.18,626.80V616.70M652.59,626.80V556.07M653.59,626.80V611.64M658.31,626.80V622.59M662.41,626.80V617.54M665.70,626.80V591.44M666.51,626.80V616.27M676.19,626.80V624.27" stroke="#da645e" stroke-width="1.35" fill="none"/>
<line x1="490.70" y1="626.80" x2="677.40" y2="626.80" stroke="#da645e" stroke-width="1.6" />
<rect x="490.70" y="538.30" width="186.70" height="89.30" fill="none" stroke="#111" stroke-width="1.5"/>
<text x="502.50" y="555.80" font-size="13.1" text-anchor="start" fill="#111" font-weight="normal" transform="translate(0,555.80) scale(1,1.04) translate(0,-555.80)" >AH DC</text>
<path d="M287.79,723.30V719.94M288.41,723.30V722.61M289.26,723.30V719.01M289.93,723.30V719.65M290.67,723.30V721.73M291.30,723.30V718.44M291.87,723.30V720.78M292.85,723.30V719.57M293.72,723.30V723.05M294.69,723.30V718.56M295.51,723.30V718.64M296.34,723.30V719.18M297.09,723.30V722.17M297.98,723.30V720.38M298.48,723.30V721.94M299.39,723.30V720.17M300.13,723.30V721.85M301.11,723.30V722.71M302.02,723.30V722.50M302.84,723.30V721.49M303.34,723.30V722.21M304.20,723.30V720.68M304.85,723.30V722.51M305.65,723.30V722.41M306.48,723.30V721.56M307.40,723.30V722.59M307.90,723.30V722.89M308.63,723.30V718.82M309.36,723.30V722.75M310.25,723.30V722.15M311.16,723.30V722.02M312.08,723.30V723.02M313.02,723.30V722.76M313.55,723.30V722.37M314.23,723.30V721.76M314.73,723.30V721.36M315.59,723.30V722.04M316.56,723.30V722.06M317.16,723.30V720.60M317.86,723.30V720.57M318.74,723.30V721.81M319.58,723.30V721.80M320.53,723.30V722.45M321.35,723.30V721.78M322.20,723.30V721.91M322.86,723.30V719.43M323.74,723.30V720.18M324.66,723.30V722.40M325.45,723.30V722.15M326.09,723.30V722.13M326.80,723.30V722.85M327.57,723.30V721.85M328.23,723.30V722.93M328.80,723.30V722.58M329.60,723.30V722.36M330.49,723.30V718.23M331.29,723.30V722.02M332.00,723.30V718.72M332.61,723.30V718.75M333.15,723.30V721.77M333.97,723.30V722.40M334.83,723.30V721.26M335.75,723.30V722.60M336.59,723.30V720.25M337.13,723.30V721.73M337.94,723.30V722.98M338.69,723.30V722.30M339.41,723.30V722.80M340.04,723.30V722.33M340.57,723.30V721.97M341.19,723.30V722.58M341.73,723.30V722.56M342.69,723.30V722.58M343.24,723.30V722.49M344.20,723.30V722.91M344.87,723.30V722.71M345.71,723.30V722.31M346.25,723.30V721.67M346.91,723.30V721.95M347.63,723.30V721.65M348.16,723.30V722.68M348.80,723.30V722.62M349.70,723.30V722.24M350.37,723.30V722.24M351.29,723.30V722.13M352.01,723.30V722.00M352.81,723.30V722.40M353.52,723.30V722.84M354.24,723.30V721.64M354.89,723.30V722.46M355.68,723.30V722.10M356.27,723.30V722.33M357.13,723.30V722.98M357.68,723.30V721.84M358.62,723.30V722.94M359.16,723.30V722.04M359.80,723.30V722.00M360.31,723.30V722.32M360.89,723.30V722.52M361.73,723.30V722.23M362.65,723.30V721.70M363.46,723.30V721.69M364.04,723.30V722.29M364.70,723.30V722.05M365.25,723.30V721.63M365.93,723.30V721.79M366.90,723.30V721.54M367.59,723.30V721.67M368.58,723.30V723.01M369.45,723.30V722.46M370.17,723.30V722.87M370.75,723.30V722.75M371.71,723.30V722.76M372.34,723.30V722.56M373.05,723.30V722.56M373.77,723.30V722.87M374.29,723.30V722.37M375.11,723.30V722.91M375.86,723.30V722.59M376.60,723.30V722.30M377.49,723.30V722.85M378.15,723.30V722.56M378.73,723.30V722.27M379.25,723.30V722.67M379.88,723.30V722.64M380.40,723.30V722.92M381.39,723.30V722.40M382.00,723.30V722.71M382.51,723.30V723.02M383.10,723.30V722.22M383.75,723.30V722.90M384.28,723.30V723.03M385.27,723.30V722.45M386.23,723.30V722.36M387.11,723.30V722.89M387.69,723.30V722.88M388.22,723.30V722.97M389.08,723.30V722.68M389.58,723.30V722.85M390.50,723.30V722.34M391.36,723.30V722.45M392.31,723.30V722.61M393.00,723.30V722.60M393.63,723.30V723.10M394.26,723.30V722.71M394.82,723.30V723.06M395.43,723.30V722.79M396.41,723.30V722.68M397.32,723.30V722.44M398.11,723.30V722.83M398.80,723.30V722.84M399.61,723.30V722.34M400.50,723.30V722.86M401.08,723.30V723.12M401.86,723.30V722.92M402.36,723.30V722.85M402.97,723.30V722.94M403.80,723.30V722.59M404.44,723.30V722.45M405.04,723.30V722.28M405.59,723.30V722.58M406.44,723.30V722.45M407.18,723.30V722.32M407.99,723.30V722.49M408.52,723.30V722.96M409.25,723.30V722.63M409.79,723.30V722.44M410.46,723.30V722.69M411.22,723.30V722.35M411.87,723.30V722.61M412.66,723.30V722.52M413.32,723.30V722.87M414.05,723.30V722.57M414.86,723.30V723.01M415.58,723.30V722.61M416.18,723.30V723.04M417.13,723.30V723.11M417.88,723.30V722.86M418.39,723.30V722.88M418.97,723.30V722.76M419.92,723.30V723.06M420.59,723.30V722.49M421.40,723.30V723.11M422.01,723.30V722.87M422.95,723.30V722.72M423.57,723.30V722.69M424.31,723.30V722.99M425.14,723.30V722.46M425.87,723.30V722.63M426.75,723.30V722.24M427.55,723.30V723.09M428.30,723.30V722.52M428.96,723.30V722.50M429.64,723.30V722.56M430.44,723.30V722.51M431.40,723.30V722.48M432.25,723.30V722.48M432.86,723.30V722.56M433.67,723.30V723.07M434.54,723.30V722.92M435.28,723.30V722.65M436.13,723.30V722.42M436.86,723.30V722.26M437.58,723.30V722.61M438.57,723.30V722.83M439.42,723.30V722.24M439.96,723.30V722.41M440.78,723.30V722.63M441.67,723.30V722.33M442.24,723.30V722.68M443.04,723.30V722.48M444.01,723.30V722.39M444.92,723.30V723.07M445.63,723.30V722.28M446.60,723.30V722.43M447.26,723.30V722.42M448.02,723.30V722.51M448.84,723.30V722.33M449.69,723.30V722.23M450.43,723.30V722.67M451.25,723.30V722.61M451.77,723.30V722.24M452.43,723.30V722.67M452.95,723.30V722.95M453.90,723.30V722.87M454.55,723.30V722.38M455.17,723.30V722.51M455.95,723.30V722.30M456.68,723.30V722.83M457.30,723.30V722.79M457.80,723.30V723.02M458.37,723.30V722.84M459.25,723.30V722.26M459.92,723.30V722.90M460.57,723.30V722.55M461.30,723.30V723.02M462.06,723.30V722.88M462.63,723.30V722.40M463.18,723.30V722.72M464.05,723.30V722.63M464.98,723.30V722.84M465.95,723.30V723.09M466.89,723.30V722.74M467.39,723.30V722.89M468.38,723.30V722.47M469.24,723.30V722.38M469.74,723.30V722.85M470.47,723.30V722.29M471.42,723.30V722.99M472.40,723.30V722.62M473.05,723.30V723.05M289.77,723.30V697.17M291.57,723.30V719.08M295.18,723.30V639.00M296.73,723.30V681.99M298.41,723.30V718.24M299.90,723.30V683.68M301.51,723.30V714.87M302.81,723.30V720.77M310.70,723.30V719.08M313.00,723.30V716.98M318.53,723.30V719.08M322.81,723.30V710.65M331.69,723.30V718.24M334.80,723.30V720.77M449.62,723.30V716.98M459.62,723.30V719.93" stroke="#5f89c9" stroke-width="1.35" fill="none"/>
<line x1="287.60" y1="723.30" x2="474.40" y2="723.30" stroke="#5f89c9" stroke-width="1.6" />
<rect x="287.60" y="635.60" width="186.80" height="88.50" fill="none" stroke="#111" stroke-width="1.5"/>
<text x="304.20" y="653.10" font-size="13.1" text-anchor="start" fill="#111" font-weight="normal" transform="translate(0,653.10) scale(1,1.04) translate(0,-653.10)" >Tear ARC</text>
<line x1="282.90" y1="723.30" x2="287.60" y2="723.30" stroke="#111" stroke-width="1.4" />
<text x="280.90" y="727.70" font-size="12.4" text-anchor="end" fill="#111" font-weight="normal" transform="translate(0,727.70) scale(1,1.04) translate(0,-727.70)" >0</text>
<line x1="282.90" y1="681.15" x2="287.60" y2="681.15" stroke="#111" stroke-width="1.4" />
<text x="280.90" y="685.55" font-size="12.4" text-anchor="end" fill="#111" font-weight="normal" transform="translate(0,685.55) scale(1,1.04) translate(0,-685.55)" >50</text>
<line x1="282.90" y1="639.00" x2="287.60" y2="639.00" stroke="#111" stroke-width="1.4" />
<text x="280.90" y="643.40" font-size="12.4" text-anchor="end" fill="#111" font-weight="normal" transform="translate(0,643.40) scale(1,1.04) translate(0,-643.40)" >100</text>
<line x1="287.60" y1="724.10" x2="287.60" y2="729.20" stroke="#111" stroke-width="1.4" />
<text x="287.60" y="743.40" font-size="12.4" text-anchor="middle" fill="#111" font-weight="normal" transform="translate(0,743.40) scale(1,1.04) translate(0,-743.40)" >100</text>
<line x1="349.70" y1="724.10" x2="349.70" y2="729.20" stroke="#111" stroke-width="1.4" />
<text x="349.90" y="743.40" font-size="12.4" text-anchor="middle" fill="#111" font-weight="normal" transform="translate(0,743.40) scale(1,1.04) translate(0,-743.40)" >200</text>
<line x1="411.80" y1="724.10" x2="411.80" y2="729.20" stroke="#111" stroke-width="1.4" />
<text x="413.90" y="743.40" font-size="12.4" text-anchor="middle" fill="#111" font-weight="normal" transform="translate(0,743.40) scale(1,1.04) translate(0,-743.40)" >300</text>
<line x1="473.90" y1="724.10" x2="473.90" y2="729.20" stroke="#111" stroke-width="1.4" />
<text x="470.50" y="743.40" font-size="12.4" text-anchor="middle" fill="#111" font-weight="normal" transform="translate(0,743.40) scale(1,1.04) translate(0,-743.40)" >400</text>
<path d="M490.89,723.30V720.59M491.54,723.30V722.37M492.19,723.30V722.70M492.89,723.30V721.67M493.89,723.30V722.30M494.72,723.30V722.30M495.40,723.30V722.73M495.95,723.30V722.83M496.79,723.30V721.70M497.44,723.30V721.82M498.36,723.30V722.53M498.90,723.30V722.22M499.54,723.30V722.98M500.48,723.30V722.10M501.00,723.30V718.65M501.79,723.30V721.69M502.32,723.30V721.96M503.04,723.30V721.76M503.78,723.30V722.86M504.75,723.30V722.36M505.68,723.30V717.92M506.34,723.30V721.85M507.30,723.30V722.94M507.94,723.30V721.74M508.77,723.30V721.12M509.44,723.30V721.74M510.19,723.30V721.53M510.89,723.30V722.19M511.77,723.30V723.00M512.70,723.30V721.89M513.56,723.30V722.17M514.30,723.30V722.43M514.89,723.30V722.31M515.41,723.30V721.69M516.08,723.30V721.47M516.96,723.30V722.02M517.90,723.30V722.98M518.62,723.30V719.65M519.30,723.30V721.35M520.09,723.30V720.41M520.93,723.30V718.09M521.64,723.30V721.71M522.45,723.30V718.88M523.30,723.30V720.77M523.88,723.30V719.40M524.54,723.30V722.75M525.04,723.30V722.53M525.76,723.30V721.75M526.60,723.30V717.88M527.19,723.30V719.62M527.83,723.30V722.17M528.68,723.30V718.67M529.32,723.30V721.99M529.98,723.30V721.21M530.96,723.30V722.37M531.73,723.30V722.67M532.27,723.30V719.93M533.06,723.30V722.16M533.98,723.30V722.34M534.69,723.30V721.00M535.56,723.30V722.26M536.54,723.30V719.09M537.30,723.30V719.96M537.86,723.30V719.18M538.53,723.30V718.75M539.40,723.30V722.49M539.96,723.30V722.74M540.79,723.30V721.93M541.42,723.30V723.04M542.21,723.30V721.78M543.00,723.30V721.47M543.61,723.30V721.88M544.32,723.30V722.12M544.97,723.30V722.68M545.74,723.30V722.07M546.69,723.30V722.08M547.43,723.30V722.00M548.24,723.30V722.39M548.87,723.30V721.95M549.56,723.30V722.99M550.14,723.30V722.47M550.98,723.30V722.00M551.72,723.30V721.74M552.38,723.30V722.48M553.25,723.30V721.96M553.96,723.30V721.62M554.47,723.30V722.19M555.39,723.30V721.64M555.98,723.30V721.75M556.74,723.30V721.55M557.40,723.30V721.98M558.22,723.30V721.46M558.89,723.30V722.42M559.44,723.30V721.95M559.98,723.30V721.69M560.55,723.30V722.74M561.51,723.30V722.25M562.39,723.30V722.49M563.00,723.30V722.46M563.99,723.30V722.74M564.93,723.30V721.63M565.77,723.30V722.62M566.63,723.30V721.60M567.42,723.30V722.69M568.22,723.30V721.52M569.01,723.30V722.81M569.61,723.30V722.04M570.13,723.30V723.04M570.81,723.30V722.63M571.55,723.30V723.06M572.33,723.30V722.50M572.98,723.30V722.59M573.74,723.30V722.40M574.52,723.30V722.54M575.30,723.30V722.37M575.85,723.30V723.03M576.77,723.30V722.36M577.27,723.30V722.30M578.07,723.30V722.34M578.92,723.30V722.78M579.47,723.30V722.42M580.32,723.30V722.70M580.95,723.30V722.79M581.91,723.30V722.70M582.51,723.30V722.22M583.50,723.30V722.97M584.09,723.30V722.45M584.78,723.30V722.69M585.62,723.30V722.88M586.41,723.30V722.94M587.02,723.30V722.63M587.73,723.30V722.30M588.29,723.30V722.28M588.92,723.30V722.81M589.47,723.30V722.84M590.45,723.30V722.80M591.37,723.30V722.23M592.21,723.30V722.96M592.92,723.30V722.98M593.54,723.30V722.82M594.12,723.30V722.50M594.88,723.30V722.86M595.50,723.30V723.00M596.05,723.30V722.72M596.59,723.30V722.65M597.21,723.30V722.42M597.84,723.30V722.34M598.81,723.30V722.27M599.42,723.30V722.27M600.15,723.30V722.31M600.88,723.30V722.63M601.50,723.30V722.43M602.18,723.30V722.31M603.03,723.30V722.73M603.54,723.30V722.88M604.24,723.30V722.79M605.03,723.30V723.13M605.76,723.30V722.30M606.73,723.30V722.49M607.57,723.30V722.57M608.56,723.30V722.40M609.29,723.30V722.67M610.25,723.30V722.62M611.04,723.30V722.85M611.87,723.30V722.68M612.84,723.30V722.20M613.83,723.30V722.25M614.35,723.30V723.06M615.01,723.30V722.36M615.79,723.30V722.89M616.33,723.30V722.90M616.89,723.30V723.00M617.76,723.30V722.95M618.34,723.30V722.56M618.90,723.30V722.36M619.72,723.30V722.32M620.58,723.30V722.45M621.21,723.30V722.74M621.89,723.30V722.77M622.84,723.30V722.73M623.74,723.30V722.55M624.28,723.30V722.94M625.06,723.30V722.40M625.67,723.30V722.90M626.36,723.30V722.71M627.06,723.30V722.27M627.86,723.30V722.87M628.53,723.30V722.66M629.10,723.30V722.77M629.63,723.30V722.52M630.56,723.30V722.30M631.35,723.30V722.77M632.13,723.30V722.62M632.71,723.30V722.63M633.46,723.30V722.95M634.18,723.30V722.36M634.99,723.30V722.83M635.61,723.30V722.55M636.38,723.30V722.86M637.11,723.30V722.75M637.92,723.30V722.32M638.60,723.30V722.63M639.37,723.30V722.51M639.99,723.30V722.90M640.95,723.30V723.00M641.78,723.30V722.89M642.52,723.30V722.71M643.14,723.30V722.97M644.11,723.30V723.10M644.68,723.30V722.45M645.36,723.30V722.95M646.24,723.30V722.22M646.84,723.30V722.48M647.54,723.30V722.21M648.33,723.30V722.30M649.16,723.30V723.01M649.87,723.30V722.48M650.44,723.30V723.05M651.43,723.30V722.27M652.25,723.30V723.07M653.10,723.30V722.21M653.98,723.30V722.47M654.70,723.30V722.55M655.66,723.30V722.67M656.19,723.30V723.00M657.16,723.30V722.47M658.12,723.30V722.99M658.67,723.30V722.50M659.38,723.30V722.70M659.99,723.30V722.42M660.88,723.30V722.46M661.59,723.30V722.68M662.28,723.30V722.70M662.94,723.30V722.70M663.92,723.30V722.39M664.48,723.30V722.51M665.38,723.30V722.81M666.32,723.30V722.26M666.85,723.30V722.55M667.54,723.30V722.70M668.31,723.30V722.33M669.12,723.30V722.31M669.74,723.30V722.39M670.43,723.30V722.96M671.33,723.30V722.60M671.94,723.30V722.30M672.68,723.30V722.51M673.66,723.30V722.83M674.43,723.30V722.62M675.07,723.30V722.64M676.05,723.30V722.48M676.67,723.30V722.50M493.12,723.30V685.37M493.81,723.30V673.56M494.98,723.30V710.15M498.71,723.30V639.00M499.70,723.30V687.89M500.70,723.30V714.03M501.88,723.30V716.56M503.80,723.30V687.89M504.80,723.30V714.87M506.22,723.30V712.34M511.38,723.30V714.03M512.50,723.30V692.95M514.30,723.30V694.64M515.42,723.30V694.98M516.22,723.30V698.01M517.90,723.30V717.40M519.39,723.30V718.66M520.82,723.30V716.56M522.31,723.30V706.44M524.79,723.30V698.85M526.22,723.30V703.07M528.89,723.30V719.08M531.13,723.30V713.18M534.42,723.30V715.71M535.91,723.30V717.40M540.81,723.30V715.71M544.23,723.30V719.08M551.06,723.30V719.08M554.91,723.30V644.90M564.91,723.30V712.00M615.89,723.30V720.77M635.39,723.30V719.93M648.50,723.30V658.81M649.05,723.30V713.18M652.59,723.30V642.62M653.28,723.30V707.28M658.31,723.30V719.93M662.41,723.30V714.87M665.70,723.30V673.90M666.32,723.30V709.81M676.19,723.30V720.77" stroke="#5f89c9" stroke-width="1.35" fill="none"/>
<line x1="490.70" y1="723.30" x2="677.40" y2="723.30" stroke="#5f89c9" stroke-width="1.6" />
<rect x="490.70" y="635.60" width="186.70" height="88.50" fill="none" stroke="#111" stroke-width="1.5"/>
<text x="502.50" y="653.10" font-size="13.1" text-anchor="start" fill="#111" font-weight="normal" transform="translate(0,653.10) scale(1,1.04) translate(0,-653.10)" >AH ARC</text>
<line x1="490.70" y1="724.10" x2="490.70" y2="729.20" stroke="#111" stroke-width="1.4" />
<text x="497.40" y="743.40" font-size="12.4" text-anchor="middle" fill="#111" font-weight="normal" transform="translate(0,743.40) scale(1,1.04) translate(0,-743.40)" >100</text>
<line x1="552.80" y1="724.10" x2="552.80" y2="729.20" stroke="#111" stroke-width="1.4" />
<text x="552.00" y="743.40" font-size="12.4" text-anchor="middle" fill="#111" font-weight="normal" transform="translate(0,743.40) scale(1,1.04) translate(0,-743.40)" >200</text>
<line x1="614.90" y1="724.10" x2="614.90" y2="729.20" stroke="#111" stroke-width="1.4" />
<text x="617.00" y="743.40" font-size="12.4" text-anchor="middle" fill="#111" font-weight="normal" transform="translate(0,743.40) scale(1,1.04) translate(0,-743.40)" >300</text>
<line x1="677.00" y1="724.10" x2="677.00" y2="729.20" stroke="#111" stroke-width="1.4" />
<text x="671.60" y="743.40" font-size="12.4" text-anchor="middle" fill="#111" font-weight="normal" transform="translate(0,743.40) scale(1,1.04) translate(0,-743.40)" >400</text>
<text transform="translate(255.0,642.8) rotate(-90) scale(1,1.04)" font-size="12.4" text-anchor="middle" fill="#111">Normalized intensity</text>
<text x="484.20" y="761.60" font-size="12.6" text-anchor="middle" fill="#111" font-weight="normal" transform="translate(0,761.60) scale(1,1.04) translate(0,-761.60)" >m/z</text>
</svg></body></html>
